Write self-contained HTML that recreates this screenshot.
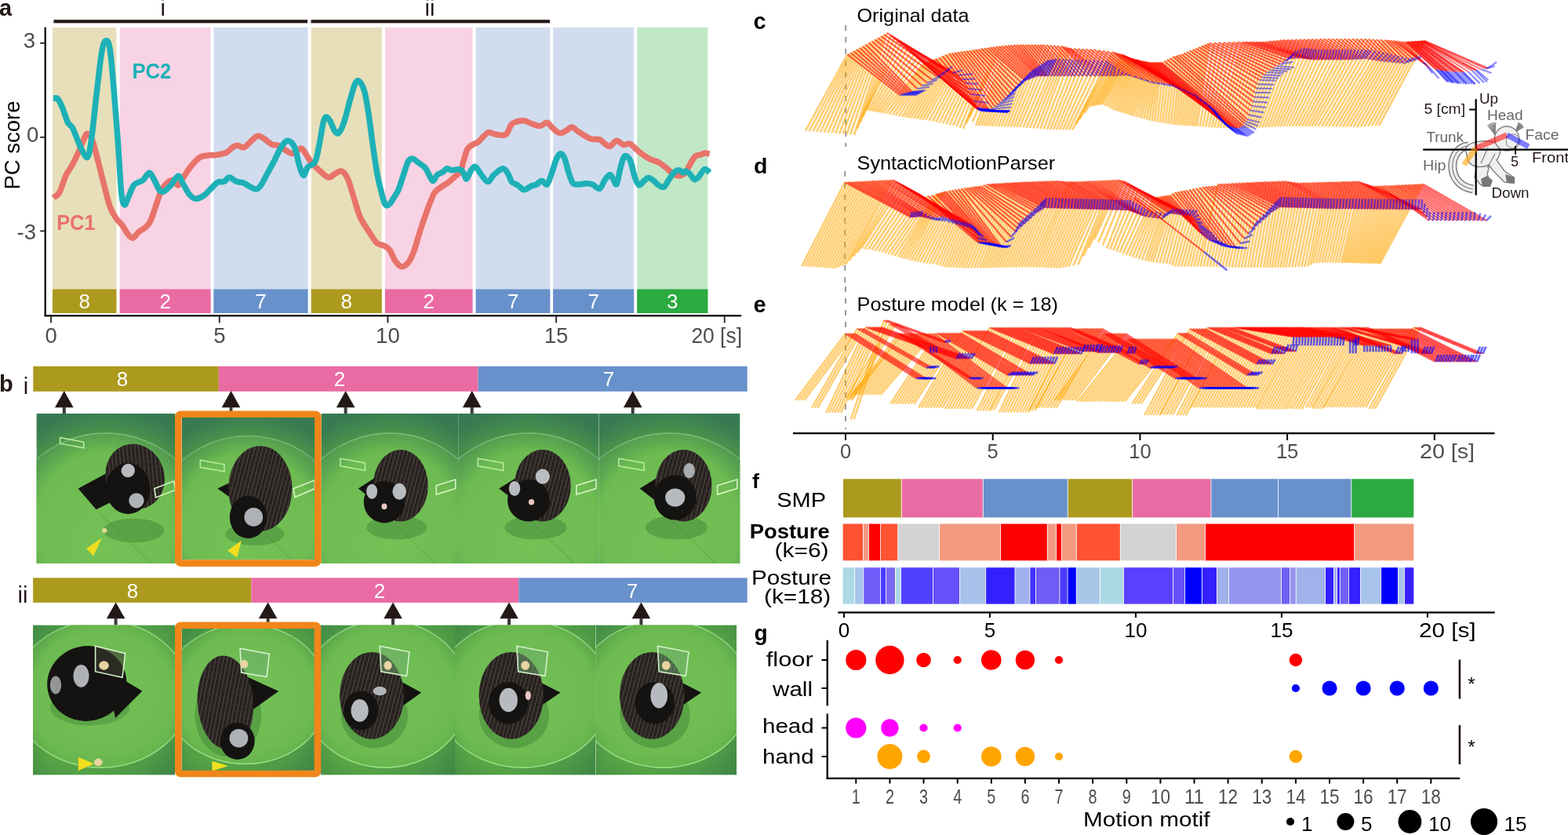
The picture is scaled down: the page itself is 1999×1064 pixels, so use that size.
<!DOCTYPE html>
<html><head><meta charset="utf-8"><title>figure</title>
<style>html,body{margin:0;padding:0;background:#fff;overflow:hidden}svg{display:block}
text{font-family:"Liberation Sans", Arial, sans-serif}</style></head>
<body><svg width="1999" height="1064" viewBox="0 0 1999 1064">
<defs><linearGradient id="gbase1" x1="0" y1="0" x2="0" y2="1">
<stop offset="0" stop-color="#4F9A4C"/><stop offset="0.22" stop-color="#5CA844"/><stop offset="1" stop-color="#62AF48"/></linearGradient>
<linearGradient id="gbase2" x1="0" y1="0" x2="1" y2="1">
<stop offset="0" stop-color="#4E9E48"/><stop offset="0.5" stop-color="#5AA845"/><stop offset="1" stop-color="#4A9548"/></linearGradient>
<radialGradient id="garena" cx="0.5" cy="0.5" r="0.5">
<stop offset="0" stop-color="#74C256"/><stop offset="0.8" stop-color="#6DBB51"/><stop offset="1" stop-color="#66B44D"/></radialGradient>
<pattern id="fur" width="5" height="7" patternUnits="userSpaceOnUse" patternTransform="rotate(15)">
<rect width="5" height="7" fill="#2c2623"/><path d="M1,0 L1.8,7" stroke="#6a625c" stroke-width="1" stroke-opacity="0.55"/><path d="M3.5,1 L4,6" stroke="#1a1614" stroke-width="1"/></pattern>
<radialGradient id="gcorn1" cx="0.5" cy="0.75" r="0.8">
<stop offset="0.62" stop-color="#2f6f55" stop-opacity="0"/><stop offset="1" stop-color="#2f6f55" stop-opacity="0.75"/></radialGradient>
<radialGradient id="gcorn2" cx="0.5" cy="0.5" r="0.72">
<stop offset="0.7" stop-color="#2f6f45" stop-opacity="0"/><stop offset="1" stop-color="#2f6f45" stop-opacity="0.45"/></radialGradient></defs>
<rect x="67.0" y="35" width="81.4" height="364" fill="#E7DFBA"/>
<rect x="67.0" y="368.5" width="81.4" height="30.5" fill="#AC9A1E"/>
<text x="107.7" y="393" font-size="26" fill="#fff" text-anchor="middle">8</text>
<rect x="152.7" y="35" width="115.9" height="364" fill="#F8D3E4"/>
<rect x="152.7" y="368.5" width="115.9" height="30.5" fill="#EA6BA3"/>
<text x="210.7" y="393" font-size="26" fill="#fff" text-anchor="middle">2</text>
<rect x="272.4" y="35" width="120.1" height="364" fill="#D1DDEF"/>
<rect x="272.4" y="368.5" width="120.1" height="30.5" fill="#6891CB"/>
<text x="332.4" y="393" font-size="26" fill="#fff" text-anchor="middle">7</text>
<rect x="396.7" y="35" width="90.1" height="364" fill="#E7DFBA"/>
<rect x="396.7" y="368.5" width="90.1" height="30.5" fill="#AC9A1E"/>
<text x="441.8" y="393" font-size="26" fill="#fff" text-anchor="middle">8</text>
<rect x="490.9" y="35" width="111.6" height="364" fill="#F8D3E4"/>
<rect x="490.9" y="368.5" width="111.6" height="30.5" fill="#EA6BA3"/>
<text x="546.7" y="393" font-size="26" fill="#fff" text-anchor="middle">2</text>
<rect x="606.6" y="35" width="94.7" height="364" fill="#D1DDEF"/>
<rect x="606.6" y="368.5" width="94.7" height="30.5" fill="#6891CB"/>
<text x="654.0" y="393" font-size="26" fill="#fff" text-anchor="middle">7</text>
<rect x="705.1" y="35" width="103.1" height="364" fill="#D1DDEF"/>
<rect x="705.1" y="368.5" width="103.1" height="30.5" fill="#6891CB"/>
<text x="756.7" y="393" font-size="26" fill="#fff" text-anchor="middle">7</text>
<rect x="812.2" y="35" width="90.2" height="364" fill="#C0E7C6"/>
<rect x="812.2" y="368.5" width="90.2" height="30.5" fill="#2BAA3F"/>
<text x="857.3" y="393" font-size="26" fill="#fff" text-anchor="middle">3</text>
<path d="M67.9,251.8 C69.2,250.7 73.2,249.9 75.8,245.3 C78.4,240.7 81.1,229.9 83.7,224.2 C86.3,218.5 89.0,215.8 91.6,211.0 C94.2,206.2 97.1,200.6 99.5,195.3 C101.9,190.1 104.0,183.7 106.0,179.5 C108.0,175.3 109.3,170.3 111.3,170.3 C113.3,170.3 115.7,174.0 117.9,179.5 C120.1,185.0 122.1,194.0 124.5,203.2 C126.9,212.4 129.8,224.6 132.4,234.7 C135.0,244.8 137.7,256.4 140.3,263.7 C142.9,270.9 145.6,274.2 148.2,278.2 C150.8,282.1 153.6,284.1 156.0,287.4 C158.4,290.7 160.4,295.3 162.6,297.9 C164.8,300.5 166.8,303.6 169.2,303.2 C171.6,302.8 174.5,297.5 177.1,295.3 C179.7,293.1 182.6,292.2 185.0,290.0 C187.4,287.8 189.4,286.5 191.6,282.1 C193.8,277.7 196.0,269.8 198.2,263.7 C200.4,257.6 202.5,250.1 204.7,245.3 C206.9,240.5 208.7,237.3 211.3,234.7 C213.9,232.1 217.9,229.3 220.5,229.5 C223.1,229.7 224.7,236.9 227.1,236.0 C229.5,235.1 232.2,228.4 235.0,224.2 C237.8,220.0 240.9,214.9 244.2,211.0 C247.5,207.1 251.2,202.7 254.7,200.5 C258.2,198.3 261.9,198.4 265.3,197.9 C268.7,197.4 271.1,198.1 275.0,197.5 C278.9,196.9 284.8,196.1 288.4,194.5 C291.9,192.9 293.9,189.4 296.3,187.9 C298.7,186.4 300.5,185.3 302.9,185.3 C305.3,185.3 308.2,188.6 310.8,187.9 C313.4,187.2 315.9,183.7 318.7,181.3 C321.5,178.9 325.0,174.3 327.9,173.4 C330.8,172.5 332.7,174.2 335.8,176.0 C338.9,177.8 343.2,182.3 346.3,183.9 C349.4,185.5 351.1,184.0 354.2,185.3 C357.3,186.6 361.6,190.1 364.7,191.8 C367.8,193.6 370.2,195.8 372.6,195.8 C375.0,195.8 377.2,192.9 379.2,191.8 C381.2,190.7 382.8,188.5 384.5,189.2 C386.2,189.9 387.7,193.0 389.7,195.8 C391.7,198.7 393.4,202.8 396.3,206.3 C399.2,209.8 403.1,213.5 406.8,216.8 C410.5,220.1 415.2,225.3 418.7,226.0 C422.2,226.7 425.0,222.1 427.9,220.8 C430.8,219.5 433.2,216.9 435.8,218.2 C438.4,219.5 441.1,222.8 443.7,228.7 C446.3,234.6 449.0,245.6 451.6,253.7 C454.2,261.8 456.4,270.6 459.5,277.4 C462.6,284.2 466.5,289.1 470.0,294.5 C473.5,299.9 477.3,306.5 480.5,309.6 C483.7,312.7 486.3,311.5 489.0,313.0 C491.7,314.5 494.4,315.2 496.8,318.4 C499.2,321.6 500.9,328.4 503.5,332.0 C506.1,335.6 509.5,339.6 512.5,339.8 C515.5,340.0 519.0,336.7 521.6,333.1 C524.2,329.5 526.0,324.6 528.3,318.4 C530.5,312.2 532.8,303.0 535.1,295.9 C537.4,288.8 539.6,282.0 541.9,275.6 C544.1,269.2 546.5,262.6 548.6,257.5 C550.7,252.4 552.0,248.3 554.3,245.1 C556.6,241.9 559.4,240.5 562.2,238.4 C565.0,236.3 568.2,235.0 571.2,232.7 C574.2,230.4 577.6,227.2 580.2,224.8 C582.8,222.4 585.1,221.7 587.0,218.1 C588.9,214.5 590.0,208.1 591.5,203.4 C593.0,198.7 594.1,193.1 596.0,189.9 C597.9,186.7 600.5,185.8 602.7,184.3 C605.0,182.8 607.2,182.6 609.5,180.9 C611.8,179.2 614.0,176.2 616.3,174.1 C618.5,172.0 620.8,169.1 623.0,168.5 C625.2,167.9 627.2,170.1 629.8,170.7 C632.4,171.3 636.2,172.3 638.8,172.3 C641.4,172.3 643.4,173.0 645.6,170.7 C647.9,168.4 650.0,160.9 652.3,158.3 C654.5,155.7 656.5,155.7 659.1,154.9 C661.7,154.2 665.1,153.4 668.1,153.8 C671.1,154.2 673.7,156.1 677.1,157.2 C680.5,158.3 685.0,160.8 688.4,160.6 C691.8,160.4 694.8,155.7 697.4,156.1 C700.0,156.5 701.9,160.7 704.2,162.8 C706.5,164.9 709.1,167.4 711.0,168.5 C712.9,169.6 713.9,169.7 715.8,169.3 C717.7,168.9 720.2,167.3 722.4,166.1 C724.6,164.9 726.5,161.9 728.9,162.1 C731.3,162.3 734.2,165.7 736.8,167.4 C739.4,169.2 741.9,171.0 744.7,172.6 C747.6,174.2 750.6,176.3 753.9,177.2 C757.2,178.1 761.6,176.9 764.5,177.9 C767.4,178.9 768.9,181.8 771.1,183.2 C773.3,184.6 775.1,187.1 777.6,186.4 C780.1,185.7 783.4,179.5 786.2,179.2 C789.1,178.9 792.0,183.8 794.7,184.5 C797.4,185.2 800.2,182.5 802.6,183.2 C805.0,183.8 806.6,186.2 809.2,188.4 C811.8,190.6 815.1,193.9 818.4,196.3 C821.7,198.7 825.4,201.2 828.9,202.9 C832.4,204.7 836.2,205.1 839.5,206.8 C842.8,208.6 845.6,211.0 848.7,213.4 C851.8,215.8 855.0,219.5 857.9,221.3 C860.8,223.1 863.2,224.2 865.8,224.0 C868.4,223.8 871.3,222.6 873.7,220.0 C876.1,217.4 878.1,211.7 880.3,208.2 C882.5,204.7 884.6,200.8 886.8,198.9 C889.0,197.0 891.4,197.7 893.4,197.0 C895.4,196.3 896.8,195.1 898.7,195.0 C900.6,194.9 903.6,196.1 904.6,196.3" fill="none" stroke="#E8736A" stroke-width="7.5" stroke-linejoin="round" stroke-linecap="butt"/>
<path d="M67.9,125.5 C68.8,125.5 71.2,123.5 73.2,125.5 C75.2,127.5 77.5,132.3 79.7,137.4 C81.9,142.5 84.1,151.4 86.3,155.8 C88.5,160.2 90.3,158.7 92.9,163.7 C95.5,168.7 99.0,179.9 102.1,186.0 C105.2,192.1 108.9,202.0 111.3,200.5 C113.7,199.0 114.6,190.4 116.6,176.8 C118.6,163.2 121.0,137.4 123.2,119.0 C125.4,100.6 127.7,77.5 129.7,66.3 C131.7,55.1 133.2,52.2 135.0,51.8 C136.8,51.4 138.6,52.5 140.3,63.7 C142.1,74.9 143.8,98.4 145.5,119.0 C147.2,139.6 149.3,166.3 150.8,187.4 C152.3,208.5 153.4,233.0 154.7,245.3 C156.0,257.6 157.1,260.1 158.7,261.0 C160.2,261.9 162.0,254.7 164.0,250.5 C166.0,246.3 168.3,239.1 170.5,236.0 C172.7,232.9 175.1,233.1 177.1,232.0 C179.1,230.9 180.2,231.4 182.4,229.5 C184.6,227.6 187.9,220.3 190.3,220.3 C192.7,220.3 194.6,225.8 196.8,229.5 C199.0,233.2 201.4,240.2 203.4,242.6 C205.4,245.0 206.3,245.1 208.7,244.0 C211.1,242.9 214.8,239.3 217.9,236.0 C221.0,232.7 224.5,224.4 227.1,224.2 C229.7,224.0 231.3,230.8 233.7,234.7 C236.1,238.6 239.0,244.8 241.6,247.9 C244.2,251.0 246.4,253.0 249.5,253.2 C252.6,253.4 256.5,251.6 260.0,249.2 C263.5,246.8 267.5,241.5 270.5,238.7 C273.5,235.8 275.3,233.3 277.9,232.1 C280.4,230.9 283.4,232.3 285.8,231.3 C288.2,230.3 289.8,226.0 292.4,226.0 C295.0,226.0 298.5,230.1 301.6,231.3 C304.7,232.5 308.0,232.1 310.8,233.2 C313.6,234.3 316.1,236.6 318.7,237.9 C321.3,239.2 324.2,241.5 326.6,241.1 C329.0,240.7 330.8,238.7 333.2,235.3 C335.6,231.9 338.4,225.6 341.0,220.8 C343.6,216.0 346.4,211.4 349.0,206.3 C351.6,201.2 354.2,194.9 356.8,190.5 C359.4,186.1 362.3,181.5 364.7,180.0 C367.1,178.5 369.3,179.6 371.3,181.3 C373.3,183.1 374.9,185.4 376.6,190.5 C378.4,195.6 380.1,206.1 381.8,211.6 C383.6,217.1 385.3,223.2 387.1,223.4 C388.9,223.6 390.0,215.8 392.4,212.9 C394.8,210.1 399.2,210.9 401.6,206.3 C404.0,201.7 405.1,193.6 406.8,185.3 C408.6,177.0 410.6,162.4 412.1,156.3 C413.6,150.2 414.5,149.1 416.0,148.9 C417.5,148.7 419.5,152.0 421.3,155.0 C423.1,158.0 424.9,164.4 426.6,166.8 C428.4,169.2 429.8,171.2 431.8,169.5 C433.8,167.8 436.0,163.3 438.4,156.3 C440.8,149.3 443.9,135.7 446.3,127.4 C448.7,119.1 450.9,110.2 452.9,106.3 C454.9,102.3 456.2,102.0 458.2,103.7 C460.2,105.5 462.7,109.8 464.7,116.8 C466.7,123.8 468.2,134.4 470.0,145.8 C471.8,157.2 473.6,173.0 475.3,185.3 C477.1,197.6 478.8,209.8 480.5,219.5 C482.2,229.2 484.1,236.4 485.8,243.2 C487.6,250.0 489.2,257.4 491.0,260.3 C492.8,263.2 494.6,261.5 496.3,260.3 C498.0,259.1 499.4,256.1 501.3,253.0 C503.2,249.9 505.8,247.1 508.0,241.8 C510.2,236.6 512.7,227.5 514.8,221.5 C516.9,215.5 518.5,208.9 520.4,205.7 C522.3,202.5 524.0,202.1 526.1,202.3 C528.2,202.5 530.2,204.9 532.8,206.8 C535.4,208.7 539.4,210.8 541.9,213.6 C544.4,216.4 545.8,220.9 547.5,223.7 C549.2,226.5 550.3,230.7 552.0,230.5 C553.7,230.3 555.5,224.5 557.6,222.6 C559.7,220.7 562.3,220.5 564.4,219.2 C566.5,217.9 568.1,215.1 570.0,214.7 C571.9,214.3 573.2,216.8 575.7,217.0 C578.2,217.2 582.3,215.4 584.7,215.8 C587.1,216.2 588.6,217.1 590.3,219.2 C592.0,221.3 593.1,228.6 594.8,228.2 C596.5,227.8 598.6,219.6 600.5,217.0 C602.4,214.4 604.0,211.7 606.1,212.4 C608.2,213.2 610.3,218.3 612.9,221.5 C615.5,224.7 619.1,231.4 621.9,231.6 C624.7,231.8 626.6,225.4 629.8,222.6 C633.0,219.8 638.1,214.9 641.1,214.7 C644.1,214.5 645.9,218.7 647.8,221.5 C649.7,224.3 650.2,229.2 652.3,231.6 C654.4,234.0 657.6,234.4 660.2,236.1 C662.8,237.8 665.3,241.6 668.1,241.8 C670.9,242.0 674.5,238.3 677.1,237.2 C679.7,236.1 681.6,236.1 683.9,235.0 C686.2,233.9 688.5,230.5 690.7,230.5 C693.0,230.5 695.3,236.5 697.4,235.0 C699.5,233.5 701.1,226.8 703.1,221.5 C705.1,216.2 707.3,207.2 709.2,202.9 C711.1,198.6 712.8,195.9 714.5,195.7 C716.2,195.5 718.0,197.5 719.7,201.6 C721.5,205.7 723.2,214.7 725.0,220.0 C726.8,225.3 728.3,230.7 730.3,233.2 C732.3,235.7 733.9,235.0 736.8,235.1 C739.6,235.2 744.3,233.8 747.4,233.8 C750.5,233.8 752.4,234.0 755.3,235.1 C758.1,236.2 761.9,241.4 764.5,240.4 C767.1,239.4 768.9,232.2 771.1,229.2 C773.3,226.2 775.8,222.6 777.6,222.6 C779.5,222.6 780.8,227.2 782.2,229.2 C783.6,231.2 784.8,236.9 786.2,234.5 C787.6,232.1 789.4,220.2 790.8,214.7 C792.2,209.2 793.4,204.2 794.7,201.6 C796.0,199.0 797.2,198.2 798.7,198.9 C800.2,199.6 802.1,201.1 803.9,205.5 C805.6,209.9 807.4,220.2 809.2,225.3 C811.0,230.4 812.5,234.9 814.5,235.8 C816.5,236.7 819.0,232.0 821.0,230.5 C823.0,229.0 824.3,226.7 826.3,226.6 C828.3,226.5 830.7,228.4 832.9,229.9 C835.1,231.4 837.3,234.4 839.5,235.8 C841.7,237.2 843.9,239.5 846.1,238.4 C848.3,237.3 850.4,232.3 852.6,229.2 C854.8,226.1 857.0,222.1 859.2,220.0 C861.4,217.9 863.8,216.7 865.8,216.7 C867.8,216.7 869.5,219.8 871.0,220.0 C872.5,220.2 873.5,217.6 875.0,218.0 C876.5,218.4 878.5,220.8 880.3,222.6 C882.0,224.4 883.8,228.1 885.5,228.6 C887.2,229.1 888.8,227.4 890.8,225.3 C892.8,223.2 895.6,217.5 897.4,216.1 C899.1,214.7 900.1,216.0 901.3,216.7 C902.5,217.3 904.0,219.4 904.6,220.0" fill="none" stroke="#1DB1B7" stroke-width="7.5" stroke-linejoin="round" stroke-linecap="butt"/>
<text x="168.5" y="100" font-size="27" font-weight="bold" fill="#1DB1B7" textLength="49.8" lengthAdjust="spacingAndGlyphs">PC2</text>
<text x="72.2" y="292.8" font-size="27" font-weight="bold" fill="#E8736A" textLength="49.3" lengthAdjust="spacingAndGlyphs">PC1</text>
<rect x="68.4" y="25.2" width="323.6" height="4.2" fill="#231815"/>
<rect x="396.5" y="25.2" width="304.5" height="4.2" fill="#231815"/>
<text x="207.8" y="19.8" font-size="29" fill="#231815" text-anchor="middle">i</text>
<text x="548" y="19.8" font-size="29" fill="#231815" text-anchor="middle">ii</text>
<rect x="56.6" y="34.8" width="2.2" height="368.5" fill="#000"/>
<rect x="56.6" y="401.2" width="888.6" height="2.2" fill="#000"/>
<rect x="51.2" y="53.9" width="6" height="2" fill="#333"/>
<text x="29.8" y="61.0" font-size="27.5" fill="#4D4D4D">3</text>
<rect x="51.2" y="173.9" width="6" height="2" fill="#333"/>
<text x="33.9" y="181.0" font-size="27.5" fill="#4D4D4D">0</text>
<rect x="51.2" y="293.4" width="6" height="2" fill="#333"/>
<text x="21.6" y="305.0" font-size="27.5" fill="#4D4D4D">-3</text>
<rect x="64.1" y="403" width="2" height="8.4" fill="#333"/>
<text x="65.1" y="436.8" font-size="27.5" fill="#4D4D4D" text-anchor="middle">0</text>
<rect x="278.8" y="403" width="2" height="8.4" fill="#333"/>
<text x="279.8" y="436.8" font-size="27.5" fill="#4D4D4D" text-anchor="middle">5</text>
<rect x="493.4" y="403" width="2" height="8.4" fill="#333"/>
<text x="494.4" y="436.8" font-size="27.5" fill="#4D4D4D" text-anchor="middle">10</text>
<rect x="708.1" y="403" width="2" height="8.4" fill="#333"/>
<text x="709.1" y="436.8" font-size="27.5" fill="#4D4D4D" text-anchor="middle">15</text>
<rect x="922.7" y="403" width="2" height="8.4" fill="#333"/>
<text x="881.4" y="436.8" font-size="27.5" fill="#4D4D4D" textLength="64.6" lengthAdjust="spacingAndGlyphs">20 [s]</text>
<text transform="translate(24.6,185) rotate(-90)" font-size="27.5" fill="#000" text-anchor="middle" textLength="113" lengthAdjust="spacingAndGlyphs">PC score</text>
<text x="-1" y="20.4" font-size="29" font-weight="bold" fill="#231815">a</text>
<text x="-1" y="498.6" font-size="29" font-weight="bold" fill="#231815">b</text>
<text x="33" y="502" font-size="29" fill="#231815" text-anchor="middle">i</text>
<text x="29" y="768" font-size="29" fill="#231815" text-anchor="middle">ii</text>
<rect x="42.3" y="466.7" width="236.5" height="32.1" fill="#AC9A1E"/>
<rect x="278.8" y="466.7" width="330.8" height="32.1" fill="#EA6BA3"/>
<rect x="609.6" y="466.7" width="343.1" height="32.1" fill="#6891CB"/>
<text x="156" y="492" font-size="26" fill="#fff" text-anchor="middle">8</text>
<text x="433" y="492" font-size="26" fill="#fff" text-anchor="middle">2</text>
<text x="776" y="492" font-size="26" fill="#fff" text-anchor="middle">7</text>
<polygon points="81.8,498.0 70.0,519.3 93.6,519.3" fill="#231815"/><rect x="79.8" y="518.8" width="4" height="8.2" fill="#3a3a3a"/>
<polygon points="294.5,498.0 282.7,519.3 306.3,519.3" fill="#231815"/><rect x="292.5" y="518.8" width="4" height="8.2" fill="#3a3a3a"/>
<polygon points="440.6,498.0 428.8,519.3 452.4,519.3" fill="#231815"/><rect x="438.6" y="518.8" width="4" height="8.2" fill="#3a3a3a"/>
<polygon points="601.7,498.0 589.9,519.3 613.5,519.3" fill="#231815"/><rect x="599.7" y="518.8" width="4" height="8.2" fill="#3a3a3a"/>
<polygon points="806.7,498.0 794.9,519.3 818.5,519.3" fill="#231815"/><rect x="804.7" y="518.8" width="4" height="8.2" fill="#3a3a3a"/>
<rect x="42.1" y="736.3" width="278.2" height="31.6" fill="#AC9A1E"/>
<rect x="320.3" y="736.3" width="341.0" height="31.6" fill="#EA6BA3"/>
<rect x="661.3" y="736.3" width="291.4" height="31.6" fill="#6891CB"/>
<text x="169" y="762" font-size="26" fill="#fff" text-anchor="middle">8</text>
<text x="484" y="762" font-size="26" fill="#fff" text-anchor="middle">2</text>
<text x="806" y="762" font-size="26" fill="#fff" text-anchor="middle">7</text>
<polygon points="147.6,767.5 135.8,788.3 159.4,788.3" fill="#231815"/><rect x="145.6" y="787.8" width="4" height="8.7" fill="#3a3a3a"/>
<polygon points="341.6,767.5 329.8,788.3 353.4,788.3" fill="#231815"/><rect x="339.6" y="787.8" width="4" height="8.7" fill="#3a3a3a"/>
<polygon points="501.0,767.5 489.2,788.3 512.8,788.3" fill="#231815"/><rect x="499.0" y="787.8" width="4" height="8.7" fill="#3a3a3a"/>
<polygon points="649.0,767.5 637.2,788.3 660.8,788.3" fill="#231815"/><rect x="647.0" y="787.8" width="4" height="8.7" fill="#3a3a3a"/>
<polygon points="817.4,767.5 805.6,788.3 829.2,788.3" fill="#231815"/><rect x="815.4" y="787.8" width="4" height="8.7" fill="#3a3a3a"/>
<clipPath id="ph0"><rect x="46.5" y="527.0" width="177.0" height="191.0"/></clipPath>
<g clip-path="url(#ph0)">
<rect x="46.5" y="527.0" width="177.0" height="191.0" fill="url(#gbase1)"/>
<ellipse cx="135.0" cy="695.1" rx="138.1" ry="143.2" fill="url(#garena)" stroke="#A4E68C" stroke-width="1.6" stroke-opacity="0.85"/>
<rect x="46.5" y="527.0" width="177.0" height="191.0" fill="url(#gcorn1)"/>
<path d="M126.2,653.1 L196.9,721.8" stroke="#3f8a3a" stroke-width="1" stroke-opacity="0.5"/>
<ellipse cx="170.4" cy="676.0" rx="38.9" ry="15.3" fill="#2f6e2c" fill-opacity="0.35" transform="rotate(0.0 170.4 676.0)"/>
<polygon points="99.6,622.5 135.0,603.4 145.6,637.8 122.6,649.2" fill="#141311" fill-opacity="1.00"/>
<ellipse cx="172.2" cy="607.2" rx="37.2" ry="42.0" fill="url(#fur)" fill-opacity="1.00" transform="rotate(-20.0 172.2 607.2)"/>
<ellipse cx="163.3" cy="622.5" rx="28.3" ry="32.5" fill="#141311" fill-opacity="1.00" transform="rotate(0.0 163.3 622.5)"/>
<ellipse cx="163.3" cy="599.6" rx="8.8" ry="8.6" fill="#c9ced3" fill-opacity="0.90" transform="rotate(-30.0 163.3 599.6)"/>
<ellipse cx="173.9" cy="637.8" rx="9.7" ry="9.6" fill="#c9ced3" fill-opacity="0.85" transform="rotate(0.0 173.9 637.8)"/>
<polygon points="196.9,622.5 221.7,613.0 223.5,624.4 198.7,634.0" fill="none" fill-opacity="1.00" stroke="#d8f5c8" stroke-width="1.6"/>
<polygon points="76.6,557.6 106.7,563.3 106.7,570.9 76.6,565.2" fill="none" fill-opacity="1.00" stroke="#b8ec9c" stroke-width="1.6"/>
<ellipse cx="133.2" cy="676.0" rx="3.2" ry="2.9" fill="#e8d890" fill-opacity="1.00" transform="rotate(0.0 133.2 676.0)"/>
<polygon points="129.7,685.5 110.2,698.9 119.1,708.5" fill="#F2DE1E"/>
</g>
<clipPath id="ph1"><rect x="231.7" y="532.0" width="169.6" height="181.3"/></clipPath>
<g clip-path="url(#ph1)">
<rect x="231.7" y="532.0" width="169.6" height="181.3" fill="url(#gbase1)"/>
<ellipse cx="316.5" cy="691.5" rx="132.3" ry="136.0" fill="url(#garena)" stroke="#A4E68C" stroke-width="1.6" stroke-opacity="0.85"/>
<rect x="231.7" y="532.0" width="169.6" height="181.3" fill="url(#gcorn1)"/>
<path d="M308.0,651.7 L375.9,716.9" stroke="#3f8a3a" stroke-width="1" stroke-opacity="0.5"/>
<ellipse cx="325.0" cy="680.7" rx="37.3" ry="14.5" fill="#2f6e2c" fill-opacity="0.35" transform="rotate(0.0 325.0 680.7)"/>
<polygon points="277.5,622.6 311.4,606.3 308.0,644.4" fill="#141311" fill-opacity="1.00"/>
<ellipse cx="331.8" cy="622.6" rx="40.7" ry="54.4" fill="url(#fur)" fill-opacity="1.00" transform="rotate(0.0 331.8 622.6)"/>
<ellipse cx="316.5" cy="658.9" rx="23.7" ry="27.2" fill="#141311" fill-opacity="1.00" transform="rotate(0.0 316.5 658.9)"/>
<ellipse cx="323.3" cy="658.9" rx="11.9" ry="11.8" fill="#c9ced3" fill-opacity="0.85" transform="rotate(0.0 323.3 658.9)"/>
<polygon points="374.2,622.6 401.3,611.8 401.3,622.6 375.9,633.5" fill="none" fill-opacity="1.00" stroke="#d8f5c8" stroke-width="1.6"/>
<polygon points="255.4,586.4 286.0,591.8 286.0,600.9 255.4,595.5" fill="none" fill-opacity="1.00" stroke="#b8ec9c" stroke-width="1.6"/>
<polygon points="308.0,688.8 290.2,701.5 302.1,710.6" fill="#F2DE1E"/>
</g>
<clipPath id="ph2"><rect x="409.5" y="527.0" width="174.7" height="191.0"/></clipPath>
<g clip-path="url(#ph2)">
<rect x="409.5" y="527.0" width="174.7" height="191.0" fill="url(#gbase1)"/>
<ellipse cx="496.9" cy="695.1" rx="136.3" ry="143.2" fill="url(#garena)" stroke="#A4E68C" stroke-width="1.6" stroke-opacity="0.85"/>
<rect x="409.5" y="527.0" width="174.7" height="191.0" fill="url(#gcorn1)"/>
<path d="M488.1,653.1 L558.0,721.8" stroke="#3f8a3a" stroke-width="1" stroke-opacity="0.5"/>
<ellipse cx="505.6" cy="672.2" rx="38.4" ry="15.3" fill="#2f6e2c" fill-opacity="0.35" transform="rotate(0.0 505.6 672.2)"/>
<polygon points="456.7,622.5 486.4,603.4 491.6,649.2" fill="#141311" fill-opacity="1.00"/>
<ellipse cx="510.8" cy="618.7" rx="34.9" ry="45.8" fill="url(#fur)" fill-opacity="1.00" transform="rotate(0.0 510.8 618.7)"/>
<ellipse cx="489.9" cy="639.7" rx="26.2" ry="26.7" fill="#141311" fill-opacity="1.00" transform="rotate(0.0 489.9 639.7)"/>
<ellipse cx="474.1" cy="626.3" rx="7.0" ry="9.6" fill="#c9ced3" fill-opacity="0.90" transform="rotate(0.0 474.1 626.3)"/>
<ellipse cx="509.1" cy="626.3" rx="8.7" ry="10.5" fill="#c9ced3" fill-opacity="0.90" transform="rotate(0.0 509.1 626.3)"/>
<ellipse cx="489.9" cy="645.4" rx="3.5" ry="3.8" fill="#e8c8c0" fill-opacity="1.00" transform="rotate(0.0 489.9 645.4)"/>
<polygon points="556.2,618.7 580.7,611.0 580.7,622.5 556.2,630.1" fill="none" fill-opacity="1.00" stroke="#d8f5c8" stroke-width="1.6"/>
<polygon points="434.0,584.3 465.4,590.0 465.4,599.6 434.0,593.9" fill="none" fill-opacity="1.00" stroke="#b8ec9c" stroke-width="1.6"/>
</g>
<clipPath id="ph3"><rect x="584.2" y="527.0" width="179.4" height="191.0"/></clipPath>
<g clip-path="url(#ph3)">
<rect x="584.2" y="527.0" width="179.4" height="191.0" fill="url(#gbase1)"/>
<ellipse cx="673.9" cy="695.1" rx="139.9" ry="143.2" fill="url(#garena)" stroke="#A4E68C" stroke-width="1.6" stroke-opacity="0.85"/>
<rect x="584.2" y="527.0" width="179.4" height="191.0" fill="url(#gcorn1)"/>
<path d="M664.9,653.1 L736.7,721.8" stroke="#3f8a3a" stroke-width="1" stroke-opacity="0.5"/>
<ellipse cx="682.9" cy="672.2" rx="39.5" ry="15.3" fill="#2f6e2c" fill-opacity="0.35" transform="rotate(0.0 682.9 672.2)"/>
<polygon points="636.2,622.5 666.7,603.4 670.3,649.2" fill="#141311" fill-opacity="1.00"/>
<ellipse cx="691.8" cy="618.7" rx="35.9" ry="45.8" fill="url(#fur)" fill-opacity="1.00" transform="rotate(0.0 691.8 618.7)"/>
<ellipse cx="673.9" cy="637.8" rx="26.9" ry="26.7" fill="#141311" fill-opacity="1.00" transform="rotate(0.0 673.9 637.8)"/>
<ellipse cx="656.0" cy="622.5" rx="7.2" ry="9.6" fill="#c9ced3" fill-opacity="0.90" transform="rotate(0.0 656.0 622.5)"/>
<ellipse cx="691.8" cy="607.2" rx="9.0" ry="9.6" fill="#c9ced3" fill-opacity="0.90" transform="rotate(0.0 691.8 607.2)"/>
<ellipse cx="677.5" cy="639.7" rx="3.6" ry="3.8" fill="#e8c8c0" fill-opacity="1.00" transform="rotate(0.0 677.5 639.7)"/>
<polygon points="734.9,618.7 760.0,611.0 760.0,622.5 734.9,630.1" fill="none" fill-opacity="1.00" stroke="#d8f5c8" stroke-width="1.6"/>
<polygon points="609.3,584.3 641.6,590.0 641.6,599.6 609.3,593.9" fill="none" fill-opacity="1.00" stroke="#b8ec9c" stroke-width="1.6"/>
</g>
<clipPath id="ph4"><rect x="763.6" y="527.0" width="179.8" height="191.0"/></clipPath>
<g clip-path="url(#ph4)">
<rect x="763.6" y="527.0" width="179.8" height="191.0" fill="url(#gbase1)"/>
<ellipse cx="853.5" cy="695.1" rx="140.2" ry="143.2" fill="url(#garena)" stroke="#A4E68C" stroke-width="1.6" stroke-opacity="0.85"/>
<rect x="763.6" y="527.0" width="179.8" height="191.0" fill="url(#gcorn1)"/>
<path d="M844.5,653.1 L916.4,721.8" stroke="#3f8a3a" stroke-width="1" stroke-opacity="0.5"/>
<ellipse cx="862.5" cy="672.2" rx="39.6" ry="15.3" fill="#2f6e2c" fill-opacity="0.35" transform="rotate(0.0 862.5 672.2)"/>
<polygon points="815.7,622.5 846.3,603.4 849.9,649.2" fill="#141311" fill-opacity="1.00"/>
<ellipse cx="871.5" cy="618.7" rx="36.0" ry="45.8" fill="url(#fur)" fill-opacity="1.00" transform="rotate(0.0 871.5 618.7)"/>
<ellipse cx="860.7" cy="634.0" rx="27.0" ry="28.6" fill="#141311" fill-opacity="1.00" transform="rotate(0.0 860.7 634.0)"/>
<ellipse cx="860.7" cy="634.0" rx="12.6" ry="11.5" fill="#c9ced3" fill-opacity="0.90" transform="rotate(0.0 860.7 634.0)"/>
<ellipse cx="878.7" cy="599.6" rx="7.2" ry="9.6" fill="#c9ced3" fill-opacity="0.80" transform="rotate(0.0 878.7 599.6)"/>
<polygon points="914.6,618.7 939.8,611.0 939.8,622.5 914.6,630.1" fill="none" fill-opacity="1.00" stroke="#d8f5c8" stroke-width="1.6"/>
<polygon points="788.8,584.3 821.1,590.0 821.1,599.6 788.8,593.9" fill="none" fill-opacity="1.00" stroke="#b8ec9c" stroke-width="1.6"/>
</g>
<rect x="227.3" y="527.8" width="178" height="189.8" rx="3" fill="none" stroke="#F0861A" stroke-width="8.6"/>
<clipPath id="ph10"><rect x="42.0" y="796.4" width="181.0" height="191.2"/></clipPath>
<g clip-path="url(#ph10)">
<rect x="42.0" y="796.4" width="181.0" height="191.2" fill="url(#gbase2)"/>
<ellipse cx="128.9" cy="884.4" rx="112.2" ry="93.7" fill="url(#garena)" stroke="#A4E68C" stroke-width="1.6" stroke-opacity="0.85"/>
<rect x="42.0" y="796.4" width="181.0" height="191.2" fill="url(#gcorn2)"/>
<ellipse cx="114.4" cy="901.6" rx="50.7" ry="22.9" fill="#2f6e2c" fill-opacity="0.30" transform="rotate(0.0 114.4 901.6)"/>
<ellipse cx="110.8" cy="871.0" rx="50.7" ry="47.8" fill="#141311" fill-opacity="1.00" transform="rotate(-10.0 110.8 871.0)"/>
<polygon points="136.1,853.8 181.4,880.5 147.0,914.9" fill="#141311" fill-opacity="1.00"/>
<ellipse cx="103.5" cy="861.4" rx="10.0" ry="14.3" fill="#c9ced3" fill-opacity="0.85" transform="rotate(0.0 103.5 861.4)"/>
<ellipse cx="71.0" cy="872.9" rx="7.2" ry="11.5" fill="#c9ced3" fill-opacity="0.70" transform="rotate(0.0 71.0 872.9)"/>
<polygon points="121.6,823.2 159.7,832.7 156.0,863.3 121.6,855.7" fill="#3a3a30" fill-opacity="0.60" stroke="#d6f2cc" stroke-width="1.6"/>
<ellipse cx="132.5" cy="848.0" rx="6.3" ry="5.7" fill="#e8d4a0" fill-opacity="1.00" transform="rotate(0.0 132.5 848.0)"/>
<ellipse cx="125.3" cy="971.3" rx="5.4" ry="4.8" fill="#e8d4a0" fill-opacity="1.00" transform="rotate(0.0 125.3 971.3)"/>
<polygon points="99.9,964.7 99.9,981.9 119.8,973.3" fill="#F2DE1E"/>
</g>
<clipPath id="ph11"><rect x="231.5" y="800.8" width="169.5" height="181.7"/></clipPath>
<g clip-path="url(#ph11)">
<rect x="231.5" y="800.8" width="169.5" height="181.7" fill="url(#gbase2)"/>
<ellipse cx="312.9" cy="884.4" rx="105.1" ry="89.0" fill="url(#garena)" stroke="#A4E68C" stroke-width="1.6" stroke-opacity="0.85"/>
<rect x="231.5" y="800.8" width="169.5" height="181.7" fill="url(#gcorn2)"/>
<ellipse cx="290.8" cy="909.8" rx="42.4" ry="54.5" fill="#2f6e2c" fill-opacity="0.35" transform="rotate(0.0 290.8 909.8)"/>
<polygon points="311.2,860.8 355.2,880.7 319.6,906.2" fill="#141311" fill-opacity="1.00"/>
<ellipse cx="287.4" cy="895.3" rx="35.6" ry="60.0" fill="url(#fur)" fill-opacity="1.00" transform="rotate(-4.0 287.4 895.3)"/>
<ellipse cx="302.7" cy="944.3" rx="22.0" ry="23.6" fill="#141311" fill-opacity="1.00" transform="rotate(0.0 302.7 944.3)"/>
<ellipse cx="304.4" cy="940.7" rx="11.9" ry="11.8" fill="#c9ced3" fill-opacity="0.85" transform="rotate(0.0 304.4 940.7)"/>
<polygon points="306.1,826.2 343.4,833.5 340.0,862.6 307.8,857.1" fill="#6fae70" fill-opacity="0.50" stroke="#d6f2cc" stroke-width="1.6"/>
<ellipse cx="311.2" cy="846.2" rx="5.1" ry="5.5" fill="#e8d4a0" fill-opacity="1.00" transform="rotate(0.0 311.2 846.2)"/>
<polygon points="270.5,969.8 270.5,982.5 290.8,976.1" fill="#F2DE1E"/>
</g>
<clipPath id="ph12"><rect x="409.0" y="796.4" width="171.0" height="191.2"/></clipPath>
<g clip-path="url(#ph12)">
<rect x="409.0" y="796.4" width="171.0" height="191.2" fill="url(#gbase2)"/>
<ellipse cx="491.1" cy="884.4" rx="106.0" ry="93.7" fill="url(#garena)" stroke="#A4E68C" stroke-width="1.6" stroke-opacity="0.85"/>
<rect x="409.0" y="796.4" width="171.0" height="191.2" fill="url(#gcorn2)"/>
<ellipse cx="477.4" cy="911.1" rx="42.8" ry="42.1" fill="#2f6e2c" fill-opacity="0.35" transform="rotate(0.0 477.4 911.1)"/>
<polygon points="497.9,861.4 537.2,882.4 504.8,905.4" fill="#141311" fill-opacity="1.00"/>
<ellipse cx="474.0" cy="886.3" rx="41.0" ry="55.4" fill="url(#fur)" fill-opacity="1.00" transform="rotate(0.0 474.0 886.3)"/>
<ellipse cx="460.3" cy="905.4" rx="22.2" ry="24.9" fill="#141311" fill-opacity="1.00" transform="rotate(0.0 460.3 905.4)"/>
<ellipse cx="458.6" cy="905.4" rx="11.1" ry="14.3" fill="#c9ced3" fill-opacity="0.90" transform="rotate(0.0 458.6 905.4)"/>
<ellipse cx="484.2" cy="880.5" rx="8.6" ry="5.7" fill="#c9ced3" fill-opacity="0.85" transform="rotate(0.0 484.2 880.5)"/>
<polygon points="484.2,823.2 521.9,830.8 518.4,861.4 485.9,855.7" fill="#6fae70" fill-opacity="0.50" stroke="#d6f2cc" stroke-width="1.6"/>
<ellipse cx="494.5" cy="848.0" rx="5.1" ry="5.7" fill="#e8d4a0" fill-opacity="1.00" transform="rotate(0.0 494.5 848.0)"/>
</g>
<clipPath id="ph13"><rect x="580.0" y="796.4" width="179.4" height="191.2"/></clipPath>
<g clip-path="url(#ph13)">
<rect x="580.0" y="796.4" width="179.4" height="191.2" fill="url(#gbase2)"/>
<ellipse cx="666.1" cy="884.4" rx="111.2" ry="93.7" fill="url(#garena)" stroke="#A4E68C" stroke-width="1.6" stroke-opacity="0.85"/>
<rect x="580.0" y="796.4" width="179.4" height="191.2" fill="url(#gcorn2)"/>
<ellipse cx="655.3" cy="911.1" rx="44.8" ry="42.1" fill="#2f6e2c" fill-opacity="0.35" transform="rotate(0.0 655.3 911.1)"/>
<polygon points="673.3,861.4 714.5,882.4 680.5,905.4" fill="#141311" fill-opacity="1.00"/>
<ellipse cx="651.8" cy="886.3" rx="41.3" ry="55.4" fill="url(#fur)" fill-opacity="1.00" transform="rotate(0.0 651.8 886.3)"/>
<ellipse cx="648.2" cy="895.8" rx="25.1" ry="26.8" fill="#141311" fill-opacity="1.00" transform="rotate(0.0 648.2 895.8)"/>
<ellipse cx="648.2" cy="892.0" rx="11.7" ry="15.3" fill="#c9ced3" fill-opacity="0.90" transform="rotate(0.0 648.2 892.0)"/>
<ellipse cx="673.3" cy="886.3" rx="3.6" ry="5.7" fill="#e8c8c0" fill-opacity="1.00" transform="rotate(0.0 673.3 886.3)"/>
<polygon points="658.9,823.2 698.4,830.8 694.8,861.4 660.7,855.7" fill="#6fae70" fill-opacity="0.50" stroke="#d6f2cc" stroke-width="1.6"/>
<ellipse cx="669.7" cy="848.0" rx="5.4" ry="5.7" fill="#e8d4a0" fill-opacity="1.00" transform="rotate(0.0 669.7 848.0)"/>
</g>
<clipPath id="ph14"><rect x="759.4" y="796.4" width="179.6" height="191.2"/></clipPath>
<g clip-path="url(#ph14)">
<rect x="759.4" y="796.4" width="179.6" height="191.2" fill="url(#gbase2)"/>
<ellipse cx="845.6" cy="884.4" rx="111.4" ry="93.7" fill="url(#garena)" stroke="#A4E68C" stroke-width="1.6" stroke-opacity="0.85"/>
<rect x="759.4" y="796.4" width="179.6" height="191.2" fill="url(#gcorn2)"/>
<ellipse cx="834.8" cy="911.1" rx="44.9" ry="42.1" fill="#2f6e2c" fill-opacity="0.35" transform="rotate(0.0 834.8 911.1)"/>
<polygon points="852.8,861.4 894.1,882.4 860.0,905.4" fill="#141311" fill-opacity="1.00"/>
<ellipse cx="831.2" cy="886.3" rx="41.3" ry="55.4" fill="url(#fur)" fill-opacity="1.00" transform="rotate(0.0 831.2 886.3)"/>
<ellipse cx="834.8" cy="895.8" rx="25.1" ry="26.8" fill="#141311" fill-opacity="1.00" transform="rotate(0.0 834.8 895.8)"/>
<ellipse cx="840.2" cy="886.3" rx="10.8" ry="16.3" fill="#c9ced3" fill-opacity="0.90" transform="rotate(0.0 840.2 886.3)"/>
<polygon points="838.4,823.2 877.9,830.8 874.3,861.4 840.2,855.7" fill="#6fae70" fill-opacity="0.50" stroke="#d6f2cc" stroke-width="1.6"/>
<ellipse cx="849.2" cy="848.0" rx="5.4" ry="5.7" fill="#e8d4a0" fill-opacity="1.00" transform="rotate(0.0 849.2 848.0)"/>
</g>
<rect x="227.3" y="796.7" width="177.6" height="189.3" rx="3" fill="none" stroke="#F0861A" stroke-width="8.6"/>
<line x1="1078.2" y1="32.0" x2="1078.2" y2="187.0" stroke="#9a9a9a" stroke-width="2" stroke-dasharray="7,8"/>
<line x1="1077.2" y1="218.0" x2="1077.2" y2="369.0" stroke="#9a9a9a" stroke-width="2" stroke-dasharray="7,8"/>
<line x1="1078.0" y1="365.0" x2="1078.0" y2="547.0" stroke="#9a9a9a" stroke-width="2" stroke-dasharray="7,8"/>
<g stroke="#FFA500" stroke-opacity="0.55" stroke-width="2.7" fill="none">
<path d="M1026.8 166.9L1080.5 69.4"/>
<path d="M1031.6 167.3L1084.4 67.3"/>
<path d="M1036.4 167.7L1088.3 65.2"/>
<path d="M1041.2 168.1L1092.2 63.1"/>
<path d="M1045.9 168.5L1096.0 61.0"/>
<path d="M1050.7 168.9L1099.9 58.9"/>
<path d="M1055.5 169.3L1103.8 56.8"/>
<path d="M1060.3 169.6L1107.7 54.6"/>
<path d="M1065.1 170.0L1111.6 52.5"/>
<path d="M1069.9 170.4L1115.5 50.4"/>
<path d="M1074.6 170.8L1119.3 48.3"/>
<path d="M1079.4 171.2L1123.2 46.2"/>
<path d="M1084.2 171.6L1127.1 44.1"/>
<path d="M1089.0 172.0L1131.0 42.0"/>
<path d="M1092.8 164.1L1135.3 45.5"/>
<path d="M1096.5 156.2L1139.5 48.9"/>
<path d="M1100.2 148.4L1143.8 52.4"/>
<path d="M1104.0 140.5L1148.1 55.8"/>
<path d="M1107.0 141.0L1152.4 59.3"/>
<path d="M1110.0 141.5L1156.6 62.7"/>
<path d="M1113.0 142.0L1160.9 66.2"/>
<path d="M1116.0 142.5L1165.2 69.6"/>
<path d="M1119.0 143.0L1169.5 73.1"/>
<path d="M1122.0 143.5L1173.7 76.5"/>
<path d="M1125.0 144.0L1178.0 80.0"/>
<path d="M1129.2 144.8L1181.0 79.0"/>
<path d="M1133.3 145.7L1184.0 78.0"/>
<path d="M1137.5 146.5L1187.0 77.0"/>
<path d="M1141.7 147.3L1190.0 76.0"/>
<path d="M1145.8 148.2L1193.0 75.0"/>
<path d="M1150.0 149.0L1197.2 73.2"/>
<path d="M1153.8 149.5L1201.5 71.5"/>
<path d="M1157.5 150.0L1205.8 69.8"/>
<path d="M1161.2 150.5L1210.0 68.0"/>
<path d="M1165.0 151.0L1213.8 67.5"/>
<path d="M1168.8 151.5L1217.5 67.0"/>
<path d="M1172.5 152.0L1221.2 66.4"/>
<path d="M1176.2 152.5L1225.0 65.9"/>
<path d="M1180.0 153.0L1228.8 65.4"/>
<path d="M1184.4 153.9L1232.5 64.8"/>
<path d="M1188.8 154.8L1236.2 64.3"/>
<path d="M1193.1 155.6L1240.0 63.8"/>
<path d="M1197.5 156.5L1243.8 63.2"/>
<path d="M1201.9 157.4L1247.5 62.7"/>
<path d="M1206.2 158.2L1251.2 62.1"/>
<path d="M1210.6 159.1L1255.0 61.5"/>
<path d="M1215.0 160.0L1258.8 61.0"/>
<path d="M1219.3 161.3L1262.5 60.4"/>
<path d="M1223.7 162.7L1266.2 59.9"/>
<path d="M1228.0 164.0L1270.0 59.3"/>
<path d="M1232.0 157.0L1273.8 58.9"/>
<path d="M1236.0 150.0L1277.5 58.5"/>
<path d="M1240.0 155.0L1281.3 58.1"/>
<path d="M1244.0 160.0L1285.1 57.8"/>
<path d="M1247.5 160.2L1288.8 57.4"/>
<path d="M1251.0 160.3L1292.6 57.0"/>
<path d="M1254.5 160.5L1296.3 57.0"/>
<path d="M1258.0 160.7L1300.1 57.0"/>
<path d="M1261.5 160.8L1303.8 57.0"/>
<path d="M1265.0 161.0L1307.6 57.0"/>
<path d="M1268.9 161.1L1311.3 57.0"/>
<path d="M1272.8 161.2L1315.0 57.0"/>
<path d="M1276.7 161.3L1318.8 57.0"/>
<path d="M1280.6 161.4L1322.5 57.0"/>
<path d="M1284.4 161.6L1326.3 57.0"/>
<path d="M1288.3 161.7L1330.0 57.0"/>
<path d="M1292.2 161.8L1334.6 57.3"/>
<path d="M1296.1 161.9L1339.1 57.6"/>
<path d="M1300.0 162.0L1343.7 58.0"/>
<path d="M1304.4 162.4L1348.2 58.3"/>
<path d="M1308.8 162.8L1352.8 58.6"/>
<path d="M1313.1 163.1L1355.8 59.4"/>
<path d="M1317.5 163.5L1358.8 60.1"/>
<path d="M1321.9 163.9L1361.8 60.9"/>
<path d="M1326.2 164.2L1364.8 61.6"/>
<path d="M1330.6 164.6L1369.8 61.8"/>
<path d="M1335.0 165.0L1374.9 62.1"/>
<path d="M1339.0 165.1L1379.9 62.3"/>
<path d="M1343.0 165.1L1384.9 62.5"/>
<path d="M1347.0 165.2L1390.0 62.8"/>
<path d="M1351.0 165.2L1395.0 63.0"/>
<path d="M1355.0 165.3L1400.8 63.8"/>
<path d="M1359.0 165.4L1406.5 64.5"/>
<path d="M1363.0 165.4L1412.2 65.2"/>
<path d="M1367.0 165.5L1418.0 66.0"/>
<path d="M1371.5 158.8L1421.0 66.9"/>
<path d="M1376.0 152.0L1424.0 67.8"/>
<path d="M1383.0 143.8L1427.0 68.6"/>
<path d="M1390.0 135.6L1430.0 69.5"/>
<path d="M1392.5 135.2L1431.7 70.2"/>
<path d="M1395.0 134.7L1433.3 71.0"/>
<path d="M1397.5 134.3L1435.0 71.8"/>
<path d="M1400.0 133.9L1436.7 72.5"/>
<path d="M1402.5 133.4L1438.3 73.2"/>
<path d="M1405.0 133.0L1440.0 74.0"/>
<path d="M1407.8 134.3L1441.5 74.4"/>
<path d="M1410.7 135.7L1443.0 74.7"/>
<path d="M1413.5 137.0L1444.5 75.1"/>
<path d="M1416.3 138.3L1446.0 75.5"/>
<path d="M1419.2 139.7L1447.5 75.9"/>
<path d="M1422.0 141.0L1449.0 76.2"/>
<path d="M1424.9 141.9L1450.5 76.6"/>
<path d="M1427.8 142.8L1452.7 77.0"/>
<path d="M1430.6 143.6L1454.8 77.5"/>
<path d="M1433.5 144.5L1457.0 77.9"/>
<path d="M1436.4 145.4L1459.1 78.3"/>
<path d="M1439.2 146.2L1461.3 78.7"/>
<path d="M1442.1 147.1L1463.4 79.2"/>
<path d="M1445.0 148.0L1465.6 79.6"/>
<path d="M1448.4 148.9L1467.5 79.6"/>
<path d="M1451.8 149.8L1469.3 79.6"/>
<path d="M1455.1 150.6L1471.2 79.6"/>
<path d="M1458.5 151.5L1473.1 79.6"/>
<path d="M1461.9 152.4L1475.0 79.6"/>
<path d="M1465.2 153.2L1476.8 79.6"/>
<path d="M1468.6 154.1L1478.7 79.6"/>
<path d="M1472.0 155.0L1480.6 79.6"/>
<path d="M1475.4 155.6L1484.3 77.7"/>
<path d="M1478.9 156.1L1488.1 75.8"/>
<path d="M1482.3 156.7L1491.8 74.0"/>
<path d="M1485.7 157.3L1495.6 72.1"/>
<path d="M1489.1 157.9L1499.1 71.1"/>
<path d="M1492.6 158.4L1502.5 70.0"/>
<path d="M1496.0 159.0L1506.0 69.0"/>
<path d="M1499.0 159.2L1509.7 67.5"/>
<path d="M1502.0 159.4L1513.4 66.0"/>
<path d="M1505.0 159.6L1517.1 64.5"/>
<path d="M1508.0 159.8L1520.9 63.1"/>
<path d="M1511.0 160.0L1524.6 61.6"/>
<path d="M1514.0 160.2L1528.3 60.1"/>
<path d="M1517.0 160.4L1532.0 58.6"/>
<path d="M1520.0 160.6L1535.3 57.3"/>
<path d="M1523.0 160.8L1538.7 56.0"/>
<path d="M1526.0 161.0L1542.0 54.7"/>
<path d="M1529.7 161.3L1548.0 54.5"/>
<path d="M1533.4 161.6L1554.0 54.3"/>
<path d="M1537.1 161.9L1560.0 54.1"/>
<path d="M1540.9 162.1L1566.0 54.0"/>
<path d="M1544.6 162.4L1572.0 53.8"/>
<path d="M1548.3 162.7L1578.0 53.6"/>
<path d="M1552.0 163.0L1584.0 53.4"/>
<path d="M1556.0 163.0L1588.3 53.4"/>
<path d="M1560.0 163.0L1592.7 53.4"/>
<path d="M1564.0 163.0L1597.0 53.4"/>
<path d="M1568.0 163.0L1601.3 53.4"/>
<path d="M1572.0 163.0L1605.7 53.4"/>
<path d="M1576.0 163.0L1610.0 53.4"/>
<path d="M1579.7 163.0L1614.3 53.0"/>
<path d="M1583.3 163.0L1618.7 52.5"/>
<path d="M1587.0 163.0L1623.0 52.1"/>
<path d="M1590.7 163.0L1627.3 51.7"/>
<path d="M1594.3 163.0L1631.7 51.2"/>
<path d="M1598.0 163.0L1636.0 50.8"/>
<path d="M1601.8 162.8L1641.2 50.7"/>
<path d="M1605.6 162.6L1646.4 50.5"/>
<path d="M1609.4 162.4L1651.6 50.4"/>
<path d="M1613.2 162.2L1656.8 50.3"/>
<path d="M1617.0 162.0L1662.0 50.1"/>
<path d="M1620.8 161.8L1667.2 50.0"/>
<path d="M1624.6 161.6L1672.4 49.9"/>
<path d="M1628.4 161.4L1677.6 49.8"/>
<path d="M1632.2 161.2L1682.8 49.6"/>
<path d="M1636.0 161.0L1688.0 49.5"/>
<path d="M1640.0 161.0L1693.2 49.5"/>
<path d="M1644.0 161.0L1698.4 49.5"/>
<path d="M1648.0 161.0L1703.6 49.5"/>
<path d="M1652.0 161.0L1708.8 49.5"/>
<path d="M1656.0 161.0L1714.0 49.5"/>
<path d="M1660.0 161.0L1719.2 49.5"/>
<path d="M1664.0 161.0L1724.4 49.5"/>
<path d="M1668.0 161.0L1729.6 49.5"/>
<path d="M1672.0 161.0L1734.8 49.5"/>
<path d="M1676.0 161.0L1740.0 49.5"/>
<path d="M1680.5 161.1L1745.1 49.8"/>
<path d="M1685.0 161.2L1750.2 50.0"/>
<path d="M1689.5 161.2L1755.4 50.3"/>
<path d="M1694.0 161.3L1760.5 50.5"/>
<path d="M1698.5 161.4L1765.6 50.8"/>
<path d="M1703.0 161.5L1769.3 51.2"/>
<path d="M1707.5 161.6L1773.0 51.5"/>
<path d="M1712.0 161.7L1776.7 51.9"/>
<path d="M1716.5 161.8L1780.4 52.3"/>
<path d="M1721.0 161.8L1784.1 52.7"/>
<path d="M1725.5 161.9L1787.8 53.0"/>
<path d="M1730.0 162.0L1791.5 53.4"/>
<path d="M1734.7 161.7L1795.6 53.2"/>
<path d="M1739.3 161.3L1799.7 52.9"/>
<path d="M1744.0 161.0L1803.8 52.7"/>
<path d="M1748.7 160.7L1807.8 52.5"/>
<path d="M1753.3 160.3L1811.9 52.2"/>
<path d="M1758.0 160.0L1816.0 52.0"/>
</g>
<g stroke="#FF0000" stroke-opacity="0.60" stroke-width="2.1" fill="none">
<path d="M1080.5 69.4L1147.0 121.0"/>
<path d="M1084.4 67.3L1149.7 120.3"/>
<path d="M1088.3 65.2L1152.3 119.7"/>
<path d="M1092.2 63.1L1155.0 119.0"/>
<path d="M1096.0 61.0L1157.7 118.3"/>
<path d="M1099.9 58.9L1160.3 117.7"/>
<path d="M1103.8 56.8L1163.0 117.0"/>
<path d="M1107.7 54.6L1169.3 113.1"/>
<path d="M1111.6 52.5L1175.6 109.3"/>
<path d="M1115.5 50.4L1181.9 105.4"/>
<path d="M1119.3 48.3L1188.1 101.6"/>
<path d="M1123.2 46.2L1194.4 97.7"/>
<path d="M1127.1 44.1L1200.7 93.9"/>
<path d="M1131.0 42.0L1207.0 90.0"/>
<path d="M1135.3 45.5L1214.5 93.0"/>
<path d="M1139.5 48.9L1222.0 96.0"/>
<path d="M1143.8 52.4L1226.5 101.0"/>
<path d="M1148.1 55.8L1231.0 106.0"/>
<path d="M1152.4 59.3L1234.5 113.0"/>
<path d="M1156.6 62.7L1238.0 120.0"/>
<path d="M1160.9 66.2L1241.5 129.0"/>
<path d="M1165.2 69.6L1245.0 138.0"/>
<path d="M1169.5 73.1L1245.7 138.4"/>
<path d="M1173.7 76.5L1246.4 138.9"/>
<path d="M1178.0 80.0L1247.1 139.3"/>
<path d="M1181.0 79.0L1247.9 139.7"/>
<path d="M1184.0 78.0L1248.6 140.1"/>
<path d="M1187.0 77.0L1249.3 140.6"/>
<path d="M1190.0 76.0L1250.0 141.0"/>
<path d="M1193.0 75.0L1252.4 141.0"/>
<path d="M1197.2 73.2L1254.8 141.0"/>
<path d="M1201.5 71.5L1257.2 141.0"/>
<path d="M1205.8 69.8L1259.6 141.0"/>
<path d="M1210.0 68.0L1262.0 141.0"/>
<path d="M1213.8 67.5L1265.3 138.4"/>
<path d="M1217.5 67.0L1268.6 135.9"/>
<path d="M1221.2 66.4L1271.9 133.3"/>
<path d="M1225.0 65.9L1275.1 130.7"/>
<path d="M1228.8 65.4L1278.4 128.1"/>
<path d="M1232.5 64.8L1281.7 125.6"/>
<path d="M1236.2 64.3L1285.0 123.0"/>
<path d="M1240.0 63.8L1288.7 119.7"/>
<path d="M1243.8 63.2L1292.3 116.3"/>
<path d="M1247.5 62.7L1296.0 113.0"/>
<path d="M1251.2 62.1L1299.7 109.7"/>
<path d="M1255.0 61.5L1303.3 106.3"/>
<path d="M1258.8 61.0L1307.0 103.0"/>
<path d="M1262.5 60.4L1309.5 102.0"/>
<path d="M1266.2 59.9L1312.0 101.0"/>
<path d="M1270.0 59.3L1314.5 100.0"/>
<path d="M1273.8 58.9L1317.0 99.0"/>
<path d="M1277.5 58.5L1319.5 98.0"/>
<path d="M1281.3 58.1L1322.0 97.0"/>
<path d="M1285.1 57.8L1324.3 97.0"/>
<path d="M1288.8 57.4L1326.7 97.0"/>
<path d="M1292.6 57.0L1329.0 97.0"/>
<path d="M1296.3 57.0L1331.3 97.0"/>
<path d="M1300.1 57.0L1333.7 97.0"/>
<path d="M1303.8 57.0L1336.0 97.0"/>
<path d="M1307.6 57.0L1340.2 97.0"/>
<path d="M1311.3 57.0L1344.5 97.0"/>
<path d="M1315.0 57.0L1348.8 97.0"/>
<path d="M1318.8 57.0L1353.0 97.0"/>
<path d="M1322.5 57.0L1357.2 97.0"/>
<path d="M1326.3 57.0L1361.5 97.0"/>
<path d="M1330.0 57.0L1365.8 97.0"/>
<path d="M1334.6 57.3L1370.0 97.0"/>
<path d="M1339.1 57.6L1375.2 97.0"/>
<path d="M1343.7 58.0L1380.3 97.0"/>
<path d="M1348.2 58.3L1385.5 97.0"/>
<path d="M1352.8 58.6L1390.7 97.0"/>
<path d="M1355.8 59.4L1395.8 97.0"/>
<path d="M1358.8 60.1L1401.0 97.0"/>
<path d="M1361.8 60.9L1405.8 97.0"/>
<path d="M1364.8 61.6L1410.5 97.0"/>
<path d="M1369.8 61.8L1415.2 97.0"/>
<path d="M1374.9 62.1L1420.0 97.0"/>
<path d="M1379.9 62.3L1424.5 96.8"/>
<path d="M1384.9 62.5L1429.0 96.5"/>
<path d="M1390.0 62.8L1433.5 96.2"/>
<path d="M1395.0 63.0L1438.0 96.0"/>
<path d="M1400.8 63.8L1444.8 98.0"/>
<path d="M1406.5 64.5L1451.5 100.0"/>
<path d="M1412.2 65.2L1458.2 102.0"/>
<path d="M1418.0 66.0L1465.0 104.0"/>
<path d="M1421.0 66.9L1471.8 105.0"/>
<path d="M1424.0 67.8L1478.5 106.0"/>
<path d="M1427.0 68.6L1485.2 107.0"/>
<path d="M1430.0 69.5L1492.0 108.0"/>
<path d="M1431.7 70.2L1499.0 111.0"/>
<path d="M1433.3 71.0L1506.0 114.0"/>
<path d="M1435.0 71.8L1513.0 117.0"/>
<path d="M1436.7 72.5L1520.0 120.0"/>
<path d="M1438.3 73.2L1525.0 123.5"/>
<path d="M1440.0 74.0L1530.0 127.0"/>
<path d="M1441.5 74.4L1535.0 130.5"/>
<path d="M1443.0 74.7L1540.0 134.0"/>
<path d="M1444.5 75.1L1542.0 136.3"/>
<path d="M1446.0 75.5L1544.0 138.7"/>
<path d="M1447.5 75.9L1546.0 141.0"/>
<path d="M1449.0 76.2L1548.0 143.3"/>
<path d="M1450.5 76.6L1550.0 145.7"/>
<path d="M1452.7 77.0L1552.0 148.0"/>
<path d="M1454.8 77.5L1554.2 150.0"/>
<path d="M1457.0 77.9L1556.3 152.0"/>
<path d="M1459.1 78.3L1558.5 154.0"/>
<path d="M1461.3 78.7L1560.7 156.0"/>
<path d="M1463.4 79.2L1562.8 158.0"/>
<path d="M1465.6 79.6L1565.0 160.0"/>
<path d="M1467.5 79.6L1567.2 160.7"/>
<path d="M1469.3 79.6L1569.3 161.3"/>
<path d="M1471.2 79.6L1571.5 162.0"/>
<path d="M1473.1 79.6L1573.7 162.7"/>
<path d="M1475.0 79.6L1575.8 163.3"/>
<path d="M1476.8 79.6L1578.0 164.0"/>
<path d="M1478.7 79.6L1579.8 163.0"/>
<path d="M1480.6 79.6L1581.5 162.0"/>
<path d="M1484.3 77.7L1583.2 161.0"/>
<path d="M1488.1 75.8L1585.0 160.0"/>
<path d="M1491.8 74.0L1586.7 157.3"/>
<path d="M1495.6 72.1L1588.3 154.7"/>
<path d="M1499.1 71.1L1590.0 152.0"/>
<path d="M1502.5 70.0L1592.0 146.3"/>
<path d="M1506.0 69.0L1594.0 140.7"/>
<path d="M1509.7 67.5L1596.0 135.0"/>
<path d="M1513.4 66.0L1597.3 129.3"/>
<path d="M1517.1 64.5L1598.7 123.7"/>
<path d="M1520.9 63.1L1600.0 118.0"/>
<path d="M1524.6 61.6L1602.0 112.7"/>
<path d="M1528.3 60.1L1604.0 107.3"/>
<path d="M1532.0 58.6L1606.0 102.0"/>
<path d="M1535.3 57.3L1609.0 98.7"/>
<path d="M1538.7 56.0L1612.0 95.3"/>
<path d="M1542.0 54.7L1615.0 92.0"/>
<path d="M1548.0 54.5L1619.3 89.3"/>
<path d="M1554.0 54.3L1623.7 86.7"/>
<path d="M1560.0 54.1L1628.0 84.0"/>
<path d="M1566.0 54.0L1632.2 81.8"/>
<path d="M1572.0 53.8L1636.5 79.5"/>
<path d="M1578.0 53.6L1640.8 77.2"/>
<path d="M1584.0 53.4L1645.0 75.0"/>
<path d="M1588.3 53.4L1650.0 74.7"/>
<path d="M1592.7 53.4L1655.0 74.3"/>
<path d="M1597.0 53.4L1660.0 74.0"/>
<path d="M1601.3 53.4L1663.0 74.4"/>
<path d="M1605.7 53.4L1666.0 74.8"/>
<path d="M1610.0 53.4L1669.0 75.2"/>
<path d="M1614.3 53.0L1672.0 75.6"/>
<path d="M1618.7 52.5L1675.0 76.0"/>
<path d="M1623.0 52.1L1678.8 76.0"/>
<path d="M1627.3 51.7L1682.5 76.0"/>
<path d="M1631.7 51.2L1686.2 76.0"/>
<path d="M1636.0 50.8L1690.0 76.0"/>
<path d="M1641.2 50.7L1693.8 76.0"/>
<path d="M1646.4 50.5L1697.5 76.0"/>
<path d="M1651.6 50.4L1701.2 76.0"/>
<path d="M1656.8 50.3L1705.0 76.0"/>
<path d="M1662.0 50.1L1708.8 76.0"/>
<path d="M1667.2 50.0L1712.5 76.0"/>
<path d="M1672.4 49.9L1716.2 76.0"/>
<path d="M1677.6 49.8L1720.0 76.0"/>
<path d="M1682.8 49.6L1723.3 75.8"/>
<path d="M1688.0 49.5L1726.7 75.7"/>
<path d="M1693.2 49.5L1730.0 75.5"/>
<path d="M1698.4 49.5L1733.3 75.3"/>
<path d="M1703.6 49.5L1736.7 75.2"/>
<path d="M1708.8 49.5L1740.0 75.0"/>
<path d="M1714.0 49.5L1745.0 75.8"/>
<path d="M1719.2 49.5L1750.0 76.5"/>
<path d="M1724.4 49.5L1755.0 77.2"/>
<path d="M1729.6 49.5L1760.0 78.0"/>
<path d="M1734.8 49.5L1765.0 78.5"/>
<path d="M1740.0 49.5L1770.0 79.0"/>
<path d="M1745.1 49.8L1775.0 79.5"/>
<path d="M1750.2 50.0L1780.0 80.0"/>
<path d="M1755.4 50.3L1785.0 80.5"/>
<path d="M1760.5 50.5L1790.0 81.0"/>
<path d="M1765.6 50.8L1794.8 79.8"/>
<path d="M1769.3 51.2L1799.5 78.5"/>
<path d="M1773.0 51.5L1804.2 77.2"/>
<path d="M1776.7 51.9L1809.0 76.0"/>
<path d="M1780.4 52.3L1813.7 79.7"/>
<path d="M1784.1 52.7L1818.3 83.3"/>
<path d="M1787.8 53.0L1823.0 87.0"/>
<path d="M1791.5 53.4L1830.3 88.3"/>
<path d="M1795.6 53.2L1837.7 89.7"/>
<path d="M1799.7 52.9L1845.0 91.0"/>
<path d="M1803.8 52.7L1855.0 91.5"/>
<path d="M1807.8 52.5L1865.0 92.0"/>
<path d="M1811.9 52.2L1881.0 89.5"/>
<path d="M1816.0 52.0L1897.0 87.0"/>
</g>
<g stroke="#0000FF" stroke-opacity="0.45" stroke-width="2.2" fill="none">
<path d="M1147.0 121.0L1169.0 121.0"/>
<path d="M1149.7 120.3L1170.8 120.0"/>
<path d="M1152.3 119.7L1172.7 119.0"/>
<path d="M1155.0 119.0L1174.5 118.0"/>
<path d="M1157.7 118.3L1176.3 117.0"/>
<path d="M1160.3 117.7L1178.2 116.0"/>
<path d="M1163.0 117.0L1180.0 115.0"/>
<path d="M1169.3 113.1L1184.9 110.7"/>
<path d="M1175.6 109.3L1189.7 106.4"/>
<path d="M1181.9 105.4L1194.6 102.1"/>
<path d="M1188.1 101.6L1199.4 97.9"/>
<path d="M1194.4 97.7L1204.3 93.6"/>
<path d="M1200.7 93.9L1209.1 89.3"/>
<path d="M1207.0 90.0L1214.0 85.0"/>
<path d="M1214.5 93.0L1227.0 89.5"/>
<path d="M1222.0 96.0L1240.0 94.0"/>
<path d="M1226.5 101.0L1243.5 100.5"/>
<path d="M1231.0 106.0L1247.0 107.0"/>
<path d="M1234.5 113.0L1251.5 114.5"/>
<path d="M1238.0 120.0L1256.0 122.0"/>
<path d="M1241.5 129.0L1260.5 131.0"/>
<path d="M1245.0 138.0L1265.0 140.0"/>
<path d="M1245.7 138.4L1267.9 140.4"/>
<path d="M1246.4 138.9L1270.7 140.9"/>
<path d="M1247.1 139.3L1273.6 141.3"/>
<path d="M1247.9 139.7L1276.4 141.7"/>
<path d="M1248.6 140.1L1279.3 142.1"/>
<path d="M1249.3 140.6L1282.1 142.6"/>
<path d="M1250.0 141.0L1285.0 143.0"/>
<path d="M1252.4 141.0L1285.6 142.6"/>
<path d="M1254.8 141.0L1286.2 142.2"/>
<path d="M1257.2 141.0L1286.8 141.8"/>
<path d="M1259.6 141.0L1287.4 141.4"/>
<path d="M1262.0 141.0L1288.0 141.0"/>
<path d="M1265.3 138.4L1289.3 136.6"/>
<path d="M1268.6 135.9L1290.6 132.1"/>
<path d="M1271.9 133.3L1291.9 127.7"/>
<path d="M1275.1 130.7L1293.1 123.3"/>
<path d="M1278.4 128.1L1294.4 118.9"/>
<path d="M1281.7 125.6L1295.7 114.4"/>
<path d="M1285.0 123.0L1297.0 110.0"/>
<path d="M1288.7 119.7L1300.3 106.5"/>
<path d="M1292.3 116.3L1303.7 103.0"/>
<path d="M1296.0 113.0L1307.0 99.5"/>
<path d="M1299.7 109.7L1310.3 96.0"/>
<path d="M1303.3 106.3L1313.7 92.5"/>
<path d="M1307.0 103.0L1317.0 89.0"/>
<path d="M1309.5 102.0L1320.2 87.0"/>
<path d="M1312.0 101.0L1323.3 85.0"/>
<path d="M1314.5 100.0L1326.5 83.0"/>
<path d="M1317.0 99.0L1329.7 81.0"/>
<path d="M1319.5 98.0L1332.8 79.0"/>
<path d="M1322.0 97.0L1336.0 77.0"/>
<path d="M1324.3 97.0L1337.8 76.7"/>
<path d="M1326.7 97.0L1339.7 76.3"/>
<path d="M1329.0 97.0L1341.5 76.0"/>
<path d="M1331.3 97.0L1343.3 75.7"/>
<path d="M1333.7 97.0L1345.2 75.3"/>
<path d="M1336.0 97.0L1347.0 75.0"/>
<path d="M1340.2 97.0L1351.2 75.1"/>
<path d="M1344.5 97.0L1355.4 75.3"/>
<path d="M1348.8 97.0L1359.5 75.4"/>
<path d="M1353.0 97.0L1363.7 75.6"/>
<path d="M1357.2 97.0L1367.9 75.7"/>
<path d="M1361.5 97.0L1372.1 75.9"/>
<path d="M1365.8 97.0L1376.2 76.0"/>
<path d="M1370.0 97.0L1380.4 76.1"/>
<path d="M1375.2 97.0L1385.5 76.3"/>
<path d="M1380.3 97.0L1390.6 76.4"/>
<path d="M1385.5 97.0L1395.7 76.6"/>
<path d="M1390.7 97.0L1400.8 76.7"/>
<path d="M1395.8 97.0L1405.9 76.9"/>
<path d="M1401.0 97.0L1411.0 77.0"/>
<path d="M1405.8 97.0L1413.8 79.0"/>
<path d="M1410.5 97.0L1416.5 81.0"/>
<path d="M1415.2 97.0L1419.2 83.0"/>
<path d="M1420.0 97.0L1422.0 85.0"/>
<path d="M1424.5 96.8L1427.0 87.8"/>
<path d="M1429.0 96.5L1432.0 90.5"/>
<path d="M1433.5 96.2L1437.0 93.2"/>
<path d="M1438.0 96.0L1442.0 96.0"/>
<path d="M1444.8 98.0L1449.5 98.5"/>
<path d="M1451.5 100.0L1457.0 101.0"/>
<path d="M1458.2 102.0L1464.5 103.5"/>
<path d="M1465.0 104.0L1472.0 106.0"/>
<path d="M1471.8 105.0L1478.8 107.1"/>
<path d="M1478.5 106.0L1485.5 108.2"/>
<path d="M1485.2 107.0L1492.2 109.4"/>
<path d="M1492.0 108.0L1499.0 110.5"/>
<path d="M1499.0 111.0L1506.0 113.6"/>
<path d="M1506.0 114.0L1513.0 116.8"/>
<path d="M1513.0 117.0L1520.0 119.9"/>
<path d="M1520.0 120.0L1527.0 123.0"/>
<path d="M1525.0 123.5L1532.8 127.8"/>
<path d="M1530.0 127.0L1538.5 132.5"/>
<path d="M1535.0 130.5L1544.2 137.2"/>
<path d="M1540.0 134.0L1550.0 142.0"/>
<path d="M1542.0 136.3L1552.3 145.0"/>
<path d="M1544.0 138.7L1554.7 148.0"/>
<path d="M1546.0 141.0L1557.0 151.0"/>
<path d="M1548.0 143.3L1559.3 154.0"/>
<path d="M1550.0 145.7L1561.7 157.0"/>
<path d="M1552.0 148.0L1564.0 160.0"/>
<path d="M1554.2 150.0L1566.3 161.8"/>
<path d="M1556.3 152.0L1568.6 163.6"/>
<path d="M1558.5 154.0L1570.9 165.4"/>
<path d="M1560.7 156.0L1573.2 167.2"/>
<path d="M1562.8 158.0L1575.5 169.1"/>
<path d="M1565.0 160.0L1577.8 170.9"/>
<path d="M1567.2 160.7L1580.0 171.4"/>
<path d="M1569.3 161.3L1582.3 171.8"/>
<path d="M1571.5 162.0L1584.6 172.3"/>
<path d="M1573.7 162.7L1586.9 172.8"/>
<path d="M1575.8 163.3L1589.2 173.3"/>
<path d="M1578.0 164.0L1591.5 173.8"/>
<path d="M1579.8 163.0L1593.4 172.6"/>
<path d="M1581.5 162.0L1595.2 171.4"/>
<path d="M1583.2 161.0L1597.1 170.2"/>
<path d="M1585.0 160.0L1599.0 169.0"/>
<path d="M1586.7 157.3L1601.3 164.7"/>
<path d="M1588.3 154.7L1603.7 160.3"/>
<path d="M1590.0 152.0L1606.0 156.0"/>
<path d="M1592.0 146.3L1608.7 149.7"/>
<path d="M1594.0 140.7L1611.3 143.3"/>
<path d="M1596.0 135.0L1614.0 137.0"/>
<path d="M1597.3 129.3L1616.0 130.7"/>
<path d="M1598.7 123.7L1618.0 124.3"/>
<path d="M1600.0 118.0L1620.0 118.0"/>
<path d="M1602.0 112.7L1622.2 112.9"/>
<path d="M1604.0 107.3L1624.4 107.8"/>
<path d="M1606.0 102.0L1626.7 102.7"/>
<path d="M1609.0 98.7L1629.9 99.6"/>
<path d="M1612.0 95.3L1633.1 96.4"/>
<path d="M1615.0 92.0L1636.3 93.3"/>
<path d="M1619.3 89.3L1640.9 90.9"/>
<path d="M1623.7 86.7L1645.4 88.4"/>
<path d="M1628.0 84.0L1650.0 86.0"/>
<path d="M1632.2 81.8L1648.2 78.8"/>
<path d="M1636.5 79.5L1646.5 71.5"/>
<path d="M1640.8 77.2L1649.3 68.2"/>
<path d="M1645.0 75.0L1652.2 65.0"/>
<path d="M1650.0 74.7L1655.8 63.7"/>
<path d="M1655.0 74.3L1659.4 62.3"/>
<path d="M1660.0 74.0L1663.0 61.0"/>
<path d="M1663.0 74.4L1666.0 61.4"/>
<path d="M1666.0 74.8L1669.0 61.8"/>
<path d="M1669.0 75.2L1672.0 62.2"/>
<path d="M1672.0 75.6L1675.0 62.6"/>
<path d="M1675.0 76.0L1678.0 63.0"/>
<path d="M1678.8 76.0L1681.8 63.0"/>
<path d="M1682.5 76.0L1685.5 63.0"/>
<path d="M1686.2 76.0L1689.2 63.0"/>
<path d="M1690.0 76.0L1693.0 63.0"/>
<path d="M1693.8 76.0L1696.8 63.0"/>
<path d="M1697.5 76.0L1700.5 63.0"/>
<path d="M1701.2 76.0L1704.2 63.0"/>
<path d="M1705.0 76.0L1708.0 63.0"/>
<path d="M1708.8 76.0L1711.8 63.0"/>
<path d="M1712.5 76.0L1715.5 63.0"/>
<path d="M1716.2 76.0L1719.2 63.0"/>
<path d="M1720.0 76.0L1723.0 63.0"/>
<path d="M1723.3 75.8L1727.6 63.1"/>
<path d="M1726.7 75.7L1732.2 63.2"/>
<path d="M1730.0 75.5L1736.8 63.2"/>
<path d="M1733.3 75.3L1741.3 63.3"/>
<path d="M1736.7 75.2L1745.0 63.5"/>
<path d="M1740.0 75.0L1748.7 63.7"/>
<path d="M1745.0 75.8L1754.0 64.8"/>
<path d="M1750.0 76.5L1759.3 65.8"/>
<path d="M1755.0 77.2L1764.7 66.9"/>
<path d="M1760.0 78.0L1770.0 68.0"/>
<path d="M1765.0 78.5L1774.7 69.2"/>
<path d="M1770.0 79.0L1779.3 70.3"/>
<path d="M1775.0 79.5L1784.0 71.5"/>
<path d="M1780.0 80.0L1788.7 72.7"/>
<path d="M1785.0 80.5L1793.3 73.8"/>
<path d="M1790.0 81.0L1798.0 75.0"/>
<path d="M1794.8 79.8L1801.2 74.0"/>
<path d="M1799.5 78.5L1804.5 73.0"/>
<path d="M1804.2 77.2L1807.8 72.0"/>
<path d="M1809.0 76.0L1811.0 71.0"/>
<path d="M1813.7 79.7L1818.7 82.2"/>
<path d="M1818.3 83.3L1826.3 93.3"/>
<path d="M1823.0 87.0L1834.5 100.0"/>
<path d="M1830.3 88.3L1845.3 104.3"/>
<path d="M1837.7 89.7L1852.7 105.5"/>
<path d="M1845.0 91.0L1860.0 106.6"/>
<path d="M1855.0 91.5L1870.0 106.9"/>
<path d="M1865.0 92.0L1880.0 107.2"/>
<path d="M1881.0 89.5L1896.0 104.5"/>
<path d="M1897.0 87.0L1908.0 79.0"/>
</g>
<g stroke="#FFA500" stroke-opacity="0.00" stroke-width="0.0" fill="none">
<path d="M1730.9 161.9L1792.3 53.4"/>
<path d="M1732.6 161.8L1793.7 53.3"/>
<path d="M1734.2 161.7L1795.2 53.2"/>
<path d="M1735.8 161.6L1796.6 53.1"/>
<path d="M1737.5 161.5L1798.0 53.0"/>
<path d="M1739.1 161.4L1799.5 52.9"/>
<path d="M1740.7 161.2L1800.9 52.9"/>
<path d="M1742.4 161.1L1802.3 52.8"/>
<path d="M1744.0 161.0L1803.7 52.7"/>
<path d="M1745.6 160.9L1805.2 52.6"/>
<path d="M1747.3 160.8L1806.6 52.5"/>
<path d="M1748.9 160.7L1808.0 52.5"/>
<path d="M1750.5 160.5L1809.5 52.4"/>
<path d="M1752.2 160.4L1810.9 52.3"/>
<path d="M1753.8 160.3L1812.3 52.2"/>
<path d="M1755.4 160.2L1813.8 52.1"/>
<path d="M1757.1 160.1L1815.2 52.0"/>
</g>
<g stroke="#FF0000" stroke-opacity="0.55" stroke-width="1.9" fill="none">
<path d="M1792.3 53.4L1831.8 88.6"/>
<path d="M1793.7 53.3L1834.4 89.1"/>
<path d="M1795.2 53.2L1836.9 89.5"/>
<path d="M1796.6 53.1L1839.5 90.0"/>
<path d="M1798.0 53.0L1842.1 90.5"/>
<path d="M1799.5 52.9L1844.6 90.9"/>
<path d="M1800.9 52.9L1848.0 91.1"/>
<path d="M1802.3 52.8L1851.5 91.3"/>
<path d="M1803.7 52.7L1855.0 91.5"/>
<path d="M1805.2 52.6L1858.5 91.7"/>
<path d="M1806.6 52.5L1862.0 91.8"/>
<path d="M1808.0 52.5L1865.8 91.9"/>
<path d="M1809.5 52.4L1871.4 91.0"/>
<path d="M1810.9 52.3L1877.0 90.1"/>
<path d="M1812.3 52.2L1882.6 89.3"/>
<path d="M1813.8 52.1L1888.2 88.4"/>
<path d="M1815.2 52.0L1893.8 87.5"/>
</g>
<g stroke="#0000FF" stroke-opacity="0.45" stroke-width="2.2" fill="none">
<path d="M1831.8 88.6L1846.8 104.6"/>
<path d="M1834.4 89.1L1849.4 105.0"/>
<path d="M1836.9 89.5L1851.9 105.4"/>
<path d="M1839.5 90.0L1854.5 105.7"/>
<path d="M1842.1 90.5L1857.1 106.1"/>
<path d="M1844.6 90.9L1859.6 106.5"/>
<path d="M1848.0 91.1L1863.0 106.7"/>
<path d="M1851.5 91.3L1866.5 106.8"/>
<path d="M1855.0 91.5L1870.0 106.9"/>
<path d="M1858.5 91.7L1873.5 107.0"/>
<path d="M1862.0 91.8L1877.0 107.1"/>
<path d="M1865.8 91.9L1880.8 107.1"/>
<path d="M1871.4 91.0L1886.4 106.1"/>
<path d="M1877.0 90.1L1892.0 105.2"/>
<path d="M1882.6 89.3L1897.2 102.0"/>
<path d="M1888.2 88.4L1901.4 93.0"/>
<path d="M1893.8 87.5L1905.6 84.1"/>
</g>
<g stroke="#FFA500" stroke-opacity="0.55" stroke-width="2.7" fill="none">
<path d="M1022.2 339.1L1077.2 232.2"/>
<path d="M1025.8 339.4L1081.0 232.0"/>
<path d="M1029.3 339.6L1084.8 231.8"/>
<path d="M1032.9 339.9L1088.7 231.6"/>
<path d="M1036.5 340.1L1092.5 231.4"/>
<path d="M1040.0 340.4L1096.3 231.3"/>
<path d="M1043.6 340.6L1100.1 231.1"/>
<path d="M1047.2 340.9L1103.9 230.9"/>
<path d="M1050.7 341.2L1107.8 230.7"/>
<path d="M1054.3 341.4L1111.6 230.5"/>
<path d="M1057.9 341.7L1115.4 230.3"/>
<path d="M1061.4 341.9L1119.2 230.1"/>
<path d="M1065.0 342.2L1123.0 229.9"/>
<path d="M1069.3 340.5L1126.8 229.8"/>
<path d="M1073.7 338.7L1130.7 229.6"/>
<path d="M1078.0 337.0L1134.5 229.4"/>
<path d="M1083.0 331.9L1138.3 229.2"/>
<path d="M1088.0 326.8L1142.3 231.4"/>
<path d="M1093.0 321.6L1146.2 233.6"/>
<path d="M1098.0 316.5L1150.2 235.7"/>
<path d="M1102.4 317.2L1154.2 237.9"/>
<path d="M1106.8 318.0L1158.2 240.1"/>
<path d="M1111.2 318.7L1162.1 242.3"/>
<path d="M1115.6 319.5L1166.1 244.5"/>
<path d="M1120.0 320.2L1170.1 246.6"/>
<path d="M1124.1 321.4L1174.0 248.8"/>
<path d="M1128.1 322.6L1178.0 251.0"/>
<path d="M1132.2 323.9L1183.1 249.8"/>
<path d="M1136.3 325.1L1188.2 248.7"/>
<path d="M1140.3 326.3L1193.3 247.5"/>
<path d="M1144.4 327.5L1195.7 246.8"/>
<path d="M1147.9 328.4L1198.2 246.0"/>
<path d="M1151.4 329.2L1200.6 245.3"/>
<path d="M1154.9 330.1L1203.1 244.5"/>
<path d="M1158.5 331.0L1205.5 243.8"/>
<path d="M1162.0 331.9L1209.6 243.1"/>
<path d="M1165.5 332.7L1213.7 242.4"/>
<path d="M1169.0 333.6L1217.8 241.7"/>
<path d="M1173.0 334.2L1221.8 241.0"/>
<path d="M1177.1 334.8L1225.9 240.3"/>
<path d="M1181.2 335.5L1230.0 239.6"/>
<path d="M1185.2 336.1L1233.2 239.2"/>
<path d="M1189.2 336.7L1236.5 238.8"/>
<path d="M1193.3 337.3L1239.8 238.3"/>
<path d="M1197.0 338.3L1243.0 237.9"/>
<path d="M1200.6 339.4L1246.2 237.5"/>
<path d="M1204.3 340.4L1249.5 237.1"/>
<path d="M1208.0 340.6L1253.9 235.9"/>
<path d="M1211.6 340.7L1258.3 234.7"/>
<path d="M1215.3 340.9L1261.9 234.5"/>
<path d="M1219.0 341.1L1265.4 234.3"/>
<path d="M1222.7 341.3L1269.0 234.1"/>
<path d="M1226.3 341.4L1272.5 233.9"/>
<path d="M1230.0 341.6L1276.1 233.7"/>
<path d="M1233.9 341.6L1279.7 233.4"/>
<path d="M1237.8 341.6L1283.2 233.2"/>
<path d="M1241.7 341.6L1286.8 233.0"/>
<path d="M1245.6 341.6L1290.3 232.8"/>
<path d="M1249.5 341.6L1293.9 232.6"/>
<path d="M1252.9 341.5L1297.4 232.4"/>
<path d="M1256.3 341.5L1301.0 232.2"/>
<path d="M1259.7 341.4L1304.8 232.0"/>
<path d="M1263.1 341.3L1308.5 231.9"/>
<path d="M1266.5 341.2L1312.3 231.8"/>
<path d="M1269.9 341.1L1316.1 231.6"/>
<path d="M1273.3 341.1L1319.9 231.4"/>
<path d="M1276.7 341.0L1323.7 231.3"/>
<path d="M1280.4 340.9L1327.4 231.2"/>
<path d="M1284.0 340.9L1331.2 231.0"/>
<path d="M1287.7 340.8L1335.0 230.8"/>
<path d="M1291.3 340.8L1338.8 230.7"/>
<path d="M1295.0 340.7L1342.5 230.6"/>
<path d="M1298.7 340.6L1346.3 230.4"/>
<path d="M1302.3 340.6L1350.3 230.7"/>
<path d="M1306.0 340.5L1354.2 231.0"/>
<path d="M1309.6 340.5L1358.2 231.3"/>
<path d="M1313.3 340.4L1362.2 231.6"/>
<path d="M1317.0 340.5L1365.2 231.6"/>
<path d="M1320.6 340.6L1368.3 231.6"/>
<path d="M1324.3 340.8L1372.1 231.4"/>
<path d="M1328.0 340.9L1376.0 231.3"/>
<path d="M1331.7 341.0L1379.8 231.2"/>
<path d="M1335.3 341.1L1383.6 231.0"/>
<path d="M1339.0 341.2L1387.4 230.8"/>
<path d="M1342.7 341.4L1391.2 230.7"/>
<path d="M1346.3 341.5L1395.1 230.6"/>
<path d="M1350.0 341.6L1398.9 230.4"/>
<path d="M1354.1 341.0L1402.7 230.2"/>
<path d="M1358.1 340.4L1406.6 230.1"/>
<path d="M1362.2 339.8L1410.4 229.9"/>
<path d="M1368.3 338.6L1414.3 229.7"/>
<path d="M1374.4 337.3L1418.1 229.5"/>
<path d="M1381.3 326.5L1422.0 229.4"/>
<path d="M1388.1 315.8L1425.8 229.2"/>
<path d="M1395.0 305.0L1429.4 230.1"/>
<path d="M1400.3 308.8L1433.0 231.0"/>
<path d="M1405.7 312.7L1437.6 233.6"/>
<path d="M1411.0 316.5L1442.2 236.2"/>
<path d="M1415.1 317.7L1446.9 238.9"/>
<path d="M1419.2 319.0L1451.5 241.5"/>
<path d="M1423.3 320.2L1456.1 244.1"/>
<path d="M1427.4 321.8L1460.8 246.8"/>
<path d="M1431.4 323.5L1465.4 249.4"/>
<path d="M1435.5 325.1L1470.0 252.0"/>
<path d="M1439.6 326.3L1473.2 251.5"/>
<path d="M1443.6 327.6L1476.3 251.0"/>
<path d="M1447.7 328.8L1479.5 250.5"/>
<path d="M1451.8 330.0L1482.4 250.0"/>
<path d="M1455.9 331.2L1485.2 249.6"/>
<path d="M1460.0 332.4L1488.1 249.1"/>
<path d="M1463.3 332.9L1491.0 248.6"/>
<path d="M1466.7 333.5L1494.6 246.8"/>
<path d="M1470.0 334.0L1498.2 245.1"/>
<path d="M1474.2 334.6L1501.7 244.4"/>
<path d="M1478.4 335.1L1505.2 243.7"/>
<path d="M1482.6 335.7L1508.8 243.0"/>
<path d="M1486.8 336.2L1512.3 242.3"/>
<path d="M1491.0 336.8L1516.5 241.5"/>
<path d="M1494.6 338.2L1520.8 240.6"/>
<path d="M1498.2 339.6L1525.0 239.8"/>
<path d="M1502.2 339.6L1529.3 238.9"/>
<path d="M1506.3 339.6L1533.5 238.1"/>
<path d="M1510.3 339.6L1537.2 237.8"/>
<path d="M1514.3 339.6L1540.8 237.5"/>
<path d="M1518.3 339.6L1544.5 237.3"/>
<path d="M1522.4 339.6L1548.1 237.0"/>
<path d="M1526.4 339.6L1551.8 236.7"/>
<path d="M1530.4 339.7L1553.2 234.5"/>
<path d="M1534.5 339.8L1557.4 234.3"/>
<path d="M1538.5 339.9L1561.7 234.1"/>
<path d="M1542.5 340.0L1565.9 233.9"/>
<path d="M1546.5 340.1L1570.1 233.7"/>
<path d="M1550.6 340.2L1574.3 233.5"/>
<path d="M1554.6 340.3L1578.6 233.3"/>
<path d="M1558.6 340.4L1582.8 233.1"/>
<path d="M1562.7 340.5L1586.3 232.9"/>
<path d="M1566.7 340.6L1589.8 232.8"/>
<path d="M1570.7 340.7L1593.4 232.6"/>
<path d="M1574.7 340.8L1596.9 232.4"/>
<path d="M1578.8 340.9L1600.4 232.2"/>
<path d="M1582.8 341.0L1604.0 232.0"/>
<path d="M1586.8 341.0L1607.5 231.9"/>
<path d="M1590.9 341.0L1611.0 231.7"/>
<path d="M1594.9 341.0L1614.8 231.6"/>
<path d="M1598.9 341.0L1618.7 231.4"/>
<path d="M1602.9 341.0L1622.5 231.3"/>
<path d="M1607.0 341.0L1626.3 231.1"/>
<path d="M1611.0 341.0L1630.1 231.0"/>
<path d="M1614.5 341.0L1634.0 230.8"/>
<path d="M1618.0 341.0L1637.8 230.7"/>
<path d="M1621.6 341.0L1641.7 231.3"/>
<path d="M1625.1 341.0L1645.5 231.9"/>
<path d="M1628.6 341.0L1649.4 232.5"/>
<path d="M1632.2 341.0L1653.3 233.1"/>
<path d="M1635.7 341.0L1657.3 233.0"/>
<path d="M1639.2 341.0L1661.4 232.9"/>
<path d="M1643.2 340.8L1665.4 232.8"/>
<path d="M1647.3 340.6L1669.4 232.7"/>
<path d="M1651.3 340.4L1673.4 232.6"/>
<path d="M1655.3 340.2L1677.5 232.5"/>
<path d="M1659.3 340.0L1681.5 232.4"/>
<path d="M1663.4 339.8L1685.3 232.3"/>
<path d="M1667.4 339.6L1689.1 232.2"/>
<path d="M1671.0 337.5L1692.9 232.1"/>
<path d="M1674.5 335.4L1696.7 232.0"/>
<path d="M1678.0 335.2L1700.5 231.9"/>
<path d="M1681.5 335.0L1704.3 231.8"/>
<path d="M1685.0 334.9L1708.1 231.6"/>
<path d="M1688.5 334.7L1711.9 231.5"/>
<path d="M1692.1 334.7L1715.7 231.4"/>
<path d="M1695.7 334.7L1719.5 231.3"/>
<path d="M1699.2 334.7L1723.3 231.2"/>
<path d="M1702.8 334.7L1727.1 231.1"/>
<path d="M1706.4 334.7L1730.9 231.0"/>
<path d="M1710.0 334.7L1734.6 232.3"/>
<path d="M1712.3 334.8L1738.2 233.6"/>
<path d="M1714.7 334.8L1741.9 234.8"/>
<path d="M1717.0 334.9L1745.5 236.1"/>
<path d="M1719.3 334.9L1749.2 237.4"/>
<path d="M1721.7 335.0L1753.0 237.2"/>
<path d="M1724.0 335.1L1756.8 237.1"/>
<path d="M1726.3 335.1L1760.6 236.9"/>
<path d="M1728.7 335.2L1764.4 236.7"/>
<path d="M1731.0 335.3L1768.3 236.5"/>
<path d="M1733.3 335.3L1772.1 236.4"/>
<path d="M1735.7 335.4L1775.9 236.2"/>
<path d="M1738.0 335.4L1779.7 236.0"/>
<path d="M1740.3 335.5L1783.5 235.9"/>
<path d="M1742.7 335.6L1787.3 235.7"/>
<path d="M1745.0 335.6L1791.1 235.5"/>
<path d="M1747.3 335.7L1794.9 235.4"/>
<path d="M1749.7 335.8L1798.8 235.2"/>
<path d="M1752.0 335.8L1802.6 235.0"/>
<path d="M1754.3 335.9L1806.4 234.8"/>
<path d="M1756.7 335.9L1810.2 234.7"/>
<path d="M1759.0 336.0L1814.0 234.5"/>
</g>
<g stroke="#FF0000" stroke-opacity="0.60" stroke-width="2.1" fill="none">
<path d="M1077.2 232.2L1161.5 277.0"/>
<path d="M1081.0 232.0L1164.2 276.8"/>
<path d="M1084.8 231.8L1166.9 276.6"/>
<path d="M1088.7 231.6L1169.6 276.4"/>
<path d="M1092.5 231.4L1172.3 276.2"/>
<path d="M1096.3 231.3L1175.0 276.0"/>
<path d="M1100.1 231.1L1178.2 276.8"/>
<path d="M1103.9 230.9L1181.5 277.5"/>
<path d="M1107.8 230.7L1184.8 278.2"/>
<path d="M1111.6 230.5L1188.0 279.0"/>
<path d="M1115.4 230.3L1192.0 278.0"/>
<path d="M1119.2 230.1L1196.0 277.0"/>
<path d="M1123.0 229.9L1200.0 276.0"/>
<path d="M1126.8 229.8L1204.5 277.1"/>
<path d="M1130.7 229.6L1209.0 278.2"/>
<path d="M1134.5 229.4L1213.5 279.4"/>
<path d="M1138.3 229.2L1218.0 280.5"/>
<path d="M1142.3 231.4L1222.5 281.6"/>
<path d="M1146.2 233.6L1227.0 282.8"/>
<path d="M1150.2 235.7L1231.5 283.9"/>
<path d="M1154.2 237.9L1236.0 285.0"/>
<path d="M1158.2 240.1L1238.5 288.2"/>
<path d="M1162.1 242.3L1241.0 291.5"/>
<path d="M1166.1 244.5L1243.5 294.8"/>
<path d="M1170.1 246.6L1246.0 298.0"/>
<path d="M1174.0 248.8L1246.5 303.5"/>
<path d="M1178.0 251.0L1247.0 309.0"/>
<path d="M1183.1 249.8L1249.3 309.4"/>
<path d="M1188.2 248.7L1251.6 309.8"/>
<path d="M1193.3 247.5L1253.9 310.2"/>
<path d="M1195.7 246.8L1256.2 310.6"/>
<path d="M1198.2 246.0L1258.5 311.0"/>
<path d="M1200.6 245.3L1260.8 311.4"/>
<path d="M1203.1 244.5L1263.1 311.8"/>
<path d="M1205.5 243.8L1265.4 312.2"/>
<path d="M1209.6 243.1L1267.7 312.6"/>
<path d="M1213.7 242.4L1270.0 313.0"/>
<path d="M1217.8 241.7L1273.5 314.0"/>
<path d="M1221.8 241.0L1277.0 315.0"/>
<path d="M1225.9 240.3L1283.0 308.3"/>
<path d="M1230.0 239.6L1289.0 301.7"/>
<path d="M1233.2 239.2L1295.0 295.0"/>
<path d="M1236.5 238.8L1298.8 291.8"/>
<path d="M1239.8 238.3L1302.5 288.5"/>
<path d="M1243.0 237.9L1306.2 285.2"/>
<path d="M1246.2 237.5L1310.0 282.0"/>
<path d="M1249.5 237.1L1314.0 278.3"/>
<path d="M1253.9 235.9L1318.0 274.7"/>
<path d="M1258.3 234.7L1322.0 271.0"/>
<path d="M1261.9 234.5L1325.3 269.0"/>
<path d="M1265.4 234.3L1328.7 267.0"/>
<path d="M1269.0 234.1L1332.0 265.0"/>
<path d="M1272.5 233.9L1336.2 265.1"/>
<path d="M1276.1 233.7L1340.4 265.2"/>
<path d="M1279.7 233.4L1344.7 265.3"/>
<path d="M1283.2 233.2L1348.9 265.4"/>
<path d="M1286.8 233.0L1353.1 265.6"/>
<path d="M1290.3 232.8L1357.3 265.7"/>
<path d="M1293.9 232.6L1361.6 265.8"/>
<path d="M1297.4 232.4L1365.8 265.9"/>
<path d="M1301.0 232.2L1370.0 266.0"/>
<path d="M1304.8 232.0L1373.5 266.1"/>
<path d="M1308.5 231.9L1377.0 266.2"/>
<path d="M1312.3 231.8L1380.5 266.3"/>
<path d="M1316.1 231.6L1384.0 266.4"/>
<path d="M1319.9 231.4L1387.5 266.5"/>
<path d="M1323.7 231.3L1391.0 266.6"/>
<path d="M1327.4 231.2L1394.5 266.7"/>
<path d="M1331.2 231.0L1398.0 266.8"/>
<path d="M1335.0 230.8L1401.5 266.9"/>
<path d="M1338.8 230.7L1405.0 267.0"/>
<path d="M1342.5 230.6L1408.5 267.1"/>
<path d="M1346.3 230.4L1412.0 267.2"/>
<path d="M1350.3 230.7L1415.5 267.3"/>
<path d="M1354.2 231.0L1419.0 267.4"/>
<path d="M1358.2 231.3L1422.5 267.5"/>
<path d="M1362.2 231.6L1426.0 267.6"/>
<path d="M1365.2 231.6L1429.5 267.7"/>
<path d="M1368.3 231.6L1433.0 267.8"/>
<path d="M1372.1 231.4L1436.5 267.9"/>
<path d="M1376.0 231.3L1440.0 268.0"/>
<path d="M1379.8 231.2L1443.3 269.3"/>
<path d="M1383.6 231.0L1446.7 270.7"/>
<path d="M1387.4 230.8L1450.0 272.0"/>
<path d="M1391.2 230.7L1453.3 273.3"/>
<path d="M1395.1 230.6L1456.7 274.7"/>
<path d="M1398.9 230.4L1460.0 276.0"/>
<path d="M1402.7 230.2L1465.2 276.8"/>
<path d="M1406.6 230.1L1470.5 277.5"/>
<path d="M1410.4 229.9L1475.8 278.2"/>
<path d="M1414.3 229.7L1481.0 279.0"/>
<path d="M1418.1 229.5L1484.3 276.7"/>
<path d="M1422.0 229.4L1487.7 274.3"/>
<path d="M1425.8 229.2L1491.0 272.0"/>
<path d="M1429.4 230.1L1495.1 272.4"/>
<path d="M1433.0 231.0L1499.3 272.9"/>
<path d="M1437.6 233.6L1503.4 273.3"/>
<path d="M1442.2 236.2L1507.6 273.7"/>
<path d="M1446.9 238.9L1511.7 274.1"/>
<path d="M1451.5 241.5L1515.9 274.6"/>
<path d="M1456.1 244.1L1520.0 275.0"/>
<path d="M1460.8 246.8L1521.8 277.5"/>
<path d="M1465.4 249.4L1523.5 280.0"/>
<path d="M1470.0 252.0L1525.2 282.5"/>
<path d="M1473.2 251.5L1527.0 285.0"/>
<path d="M1476.3 251.0L1528.0 288.7"/>
<path d="M1479.5 250.5L1529.0 292.3"/>
<path d="M1482.4 250.0L1530.0 296.0"/>
<path d="M1485.2 249.6L1533.3 299.0"/>
<path d="M1488.1 249.1L1536.7 302.0"/>
<path d="M1491.0 248.6L1540.0 305.0"/>
<path d="M1494.6 246.8L1544.0 306.8"/>
<path d="M1498.2 245.1L1548.0 308.5"/>
<path d="M1501.7 244.4L1552.0 310.2"/>
<path d="M1505.2 243.7L1556.0 312.0"/>
<path d="M1508.8 243.0L1561.0 313.0"/>
<path d="M1512.3 242.3L1566.0 314.0"/>
<path d="M1516.5 241.5L1571.0 315.0"/>
<path d="M1520.8 240.6L1576.0 316.0"/>
<path d="M1525.0 239.8L1581.2 310.0"/>
<path d="M1529.3 238.9L1586.5 304.0"/>
<path d="M1533.5 238.1L1591.8 298.0"/>
<path d="M1537.2 237.8L1597.0 292.0"/>
<path d="M1540.8 237.5L1601.7 288.0"/>
<path d="M1544.5 237.3L1606.3 284.0"/>
<path d="M1548.1 237.0L1611.0 280.0"/>
<path d="M1551.8 236.7L1614.7 276.7"/>
<path d="M1553.2 234.5L1618.3 273.3"/>
<path d="M1557.4 234.3L1622.0 270.0"/>
<path d="M1561.7 234.1L1625.3 268.0"/>
<path d="M1565.9 233.9L1628.7 266.0"/>
<path d="M1570.1 233.7L1632.0 264.0"/>
<path d="M1574.3 233.5L1635.6 264.1"/>
<path d="M1578.6 233.3L1639.2 264.2"/>
<path d="M1582.8 233.1L1642.7 264.3"/>
<path d="M1586.3 232.9L1646.3 264.4"/>
<path d="M1589.8 232.8L1649.9 264.5"/>
<path d="M1593.4 232.6L1653.5 264.6"/>
<path d="M1596.9 232.4L1657.1 264.7"/>
<path d="M1600.4 232.2L1660.6 264.8"/>
<path d="M1604.0 232.0L1664.2 264.9"/>
<path d="M1607.5 231.9L1667.8 265.1"/>
<path d="M1611.0 231.7L1671.4 265.2"/>
<path d="M1614.8 231.6L1674.9 265.3"/>
<path d="M1618.7 231.4L1678.5 265.4"/>
<path d="M1622.5 231.3L1682.1 265.5"/>
<path d="M1626.3 231.1L1685.7 265.6"/>
<path d="M1630.1 231.0L1689.3 265.7"/>
<path d="M1634.0 230.8L1692.8 265.8"/>
<path d="M1637.8 230.7L1696.4 265.9"/>
<path d="M1641.7 231.3L1700.0 266.0"/>
<path d="M1645.5 231.9L1704.0 266.0"/>
<path d="M1649.4 232.5L1708.0 266.1"/>
<path d="M1653.3 233.1L1712.0 266.1"/>
<path d="M1657.3 233.0L1716.0 266.1"/>
<path d="M1661.4 232.9L1720.0 266.2"/>
<path d="M1665.4 232.8L1724.0 266.2"/>
<path d="M1669.4 232.7L1728.0 266.2"/>
<path d="M1673.4 232.6L1732.0 266.3"/>
<path d="M1677.5 232.5L1736.0 266.3"/>
<path d="M1681.5 232.4L1740.0 266.4"/>
<path d="M1685.3 232.3L1744.0 266.4"/>
<path d="M1689.1 232.2L1748.0 266.4"/>
<path d="M1692.9 232.1L1752.0 266.5"/>
<path d="M1696.7 232.0L1756.0 266.5"/>
<path d="M1700.5 231.9L1760.0 266.5"/>
<path d="M1704.3 231.8L1764.0 266.6"/>
<path d="M1708.1 231.6L1768.0 266.6"/>
<path d="M1711.9 231.5L1772.0 266.6"/>
<path d="M1715.7 231.4L1776.0 266.7"/>
<path d="M1719.5 231.3L1780.0 266.7"/>
<path d="M1723.3 231.2L1784.0 266.8"/>
<path d="M1727.1 231.1L1788.0 266.8"/>
<path d="M1730.9 231.0L1792.0 266.8"/>
<path d="M1734.6 232.3L1796.0 266.9"/>
<path d="M1738.2 233.6L1800.0 266.9"/>
<path d="M1741.9 234.8L1804.0 266.9"/>
<path d="M1745.5 236.1L1808.0 267.0"/>
<path d="M1749.2 237.4L1812.0 267.0"/>
<path d="M1753.0 237.2L1815.3 271.7"/>
<path d="M1756.8 237.1L1818.7 276.3"/>
<path d="M1760.6 236.9L1822.0 281.0"/>
<path d="M1764.4 236.7L1827.2 281.0"/>
<path d="M1768.3 236.5L1832.4 281.0"/>
<path d="M1772.1 236.4L1837.6 281.0"/>
<path d="M1775.9 236.2L1842.9 281.0"/>
<path d="M1779.7 236.0L1848.1 281.0"/>
<path d="M1783.5 235.9L1853.3 281.0"/>
<path d="M1787.3 235.7L1858.5 281.0"/>
<path d="M1791.1 235.5L1863.7 281.0"/>
<path d="M1794.9 235.4L1868.9 281.0"/>
<path d="M1798.8 235.2L1874.1 281.0"/>
<path d="M1802.6 235.0L1879.4 281.0"/>
<path d="M1806.4 234.8L1884.6 281.0"/>
<path d="M1810.2 234.7L1889.8 281.0"/>
<path d="M1814.0 234.5L1895.0 281.0"/>
</g>
<g stroke="#0000FF" stroke-opacity="0.50" stroke-width="2.6" fill="none">
<path d="M1161.5 277.0L1162.5 270.0"/>
<path d="M1164.2 276.8L1165.2 269.8"/>
<path d="M1166.9 276.6L1167.9 269.6"/>
<path d="M1169.6 276.4L1170.6 269.4"/>
<path d="M1172.3 276.2L1173.3 269.2"/>
<path d="M1175.0 276.0L1176.0 269.0"/>
<path d="M1178.2 276.8L1181.0 271.8"/>
<path d="M1181.5 277.5L1186.0 274.5"/>
<path d="M1184.8 278.2L1191.0 277.2"/>
<path d="M1188.0 279.0L1196.0 280.0"/>
<path d="M1192.0 278.0L1199.3 280.7"/>
<path d="M1196.0 277.0L1202.7 281.3"/>
<path d="M1200.0 276.0L1206.0 282.0"/>
<path d="M1204.5 277.1L1210.8 283.2"/>
<path d="M1209.0 278.2L1215.5 284.5"/>
<path d="M1213.5 279.4L1220.2 285.8"/>
<path d="M1218.0 280.5L1225.0 287.0"/>
<path d="M1222.5 281.6L1229.8 288.2"/>
<path d="M1227.0 282.8L1234.5 289.5"/>
<path d="M1231.5 283.9L1239.2 290.8"/>
<path d="M1236.0 285.0L1244.0 292.0"/>
<path d="M1238.5 288.2L1246.5 294.5"/>
<path d="M1241.0 291.5L1249.0 297.0"/>
<path d="M1243.5 294.8L1251.5 299.5"/>
<path d="M1246.0 298.0L1254.0 302.0"/>
<path d="M1246.5 303.5L1258.0 306.0"/>
<path d="M1247.0 309.0L1262.0 310.0"/>
<path d="M1249.3 309.4L1264.3 310.5"/>
<path d="M1251.6 309.8L1266.6 311.0"/>
<path d="M1253.9 310.2L1268.9 311.5"/>
<path d="M1256.2 310.6L1271.2 312.0"/>
<path d="M1258.5 311.0L1273.5 312.5"/>
<path d="M1260.8 311.4L1275.8 313.0"/>
<path d="M1263.1 311.8L1278.1 313.5"/>
<path d="M1265.4 312.2L1280.4 314.0"/>
<path d="M1267.7 312.6L1282.7 314.5"/>
<path d="M1270.0 313.0L1285.0 315.0"/>
<path d="M1273.5 314.0L1287.0 314.0"/>
<path d="M1277.0 315.0L1289.0 313.0"/>
<path d="M1283.0 308.3L1293.0 303.0"/>
<path d="M1289.0 301.7L1297.0 293.0"/>
<path d="M1295.0 295.0L1301.0 283.0"/>
<path d="M1298.8 291.8L1304.8 279.6"/>
<path d="M1302.5 288.5L1308.5 276.2"/>
<path d="M1306.2 285.2L1312.2 272.8"/>
<path d="M1310.0 282.0L1316.0 269.4"/>
<path d="M1314.0 278.3L1320.0 265.6"/>
<path d="M1318.0 274.7L1324.0 261.8"/>
<path d="M1322.0 271.0L1328.0 258.0"/>
<path d="M1325.3 269.0L1330.0 256.0"/>
<path d="M1328.7 267.0L1332.0 254.0"/>
<path d="M1332.0 265.0L1334.0 252.0"/>
<path d="M1336.2 265.1L1338.2 252.1"/>
<path d="M1340.4 265.2L1342.4 252.2"/>
<path d="M1344.7 265.3L1346.6 252.3"/>
<path d="M1348.9 265.4L1350.8 252.4"/>
<path d="M1353.1 265.6L1354.9 252.6"/>
<path d="M1357.3 265.7L1359.1 252.7"/>
<path d="M1361.6 265.8L1363.3 252.8"/>
<path d="M1365.8 265.9L1367.5 252.9"/>
<path d="M1370.0 266.0L1371.7 253.0"/>
<path d="M1373.5 266.1L1375.2 253.1"/>
<path d="M1377.0 266.2L1378.6 253.2"/>
<path d="M1380.5 266.3L1382.1 253.3"/>
<path d="M1384.0 266.4L1385.6 253.4"/>
<path d="M1387.5 266.5L1389.0 253.5"/>
<path d="M1391.0 266.6L1392.5 253.6"/>
<path d="M1394.5 266.7L1395.9 253.7"/>
<path d="M1398.0 266.8L1399.4 253.8"/>
<path d="M1401.5 266.9L1402.9 253.9"/>
<path d="M1405.0 267.0L1406.3 254.0"/>
<path d="M1408.5 267.1L1409.8 254.1"/>
<path d="M1412.0 267.2L1413.3 254.2"/>
<path d="M1415.5 267.3L1416.7 254.3"/>
<path d="M1419.0 267.4L1420.2 254.4"/>
<path d="M1422.5 267.5L1423.7 254.5"/>
<path d="M1426.0 267.6L1427.1 254.6"/>
<path d="M1429.5 267.7L1430.6 254.7"/>
<path d="M1433.0 267.8L1434.1 254.8"/>
<path d="M1436.5 267.9L1437.5 254.9"/>
<path d="M1440.0 268.0L1441.0 255.0"/>
<path d="M1443.3 269.3L1444.8 257.2"/>
<path d="M1446.7 270.7L1448.7 259.3"/>
<path d="M1450.0 272.0L1452.5 261.5"/>
<path d="M1453.3 273.3L1456.3 263.7"/>
<path d="M1456.7 274.7L1460.2 265.8"/>
<path d="M1460.0 276.0L1464.0 268.0"/>
<path d="M1465.2 276.8L1469.5 269.0"/>
<path d="M1470.5 277.5L1475.0 270.0"/>
<path d="M1475.8 278.2L1480.5 271.0"/>
<path d="M1481.0 279.0L1486.0 272.0"/>
<path d="M1484.3 276.7L1489.7 270.0"/>
<path d="M1487.7 274.3L1493.3 268.0"/>
<path d="M1491.0 272.0L1497.0 266.0"/>
<path d="M1495.1 272.4L1501.1 266.3"/>
<path d="M1499.3 272.9L1505.3 266.6"/>
<path d="M1503.4 273.3L1509.4 266.9"/>
<path d="M1507.6 273.7L1513.6 267.1"/>
<path d="M1511.7 274.1L1517.7 267.4"/>
<path d="M1515.9 274.6L1521.9 267.7"/>
<path d="M1520.0 275.0L1526.0 268.0"/>
<path d="M1521.8 277.5L1528.2 273.5"/>
<path d="M1523.5 280.0L1530.5 279.0"/>
<path d="M1525.2 282.5L1532.8 284.5"/>
<path d="M1527.0 285.0L1535.0 290.0"/>
<path d="M1528.0 288.7L1538.7 292.3"/>
<path d="M1529.0 292.3L1542.3 294.7"/>
<path d="M1530.0 296.0L1546.0 297.0"/>
<path d="M1533.3 299.0L1549.0 300.7"/>
<path d="M1536.7 302.0L1552.0 304.3"/>
<path d="M1540.0 305.0L1555.0 308.0"/>
<path d="M1544.0 306.8L1558.8 309.8"/>
<path d="M1548.0 308.5L1562.5 311.5"/>
<path d="M1552.0 310.2L1566.2 313.2"/>
<path d="M1556.0 312.0L1570.0 315.0"/>
<path d="M1561.0 313.0L1575.0 315.2"/>
<path d="M1566.0 314.0L1580.0 315.5"/>
<path d="M1571.0 315.0L1585.0 315.8"/>
<path d="M1576.0 316.0L1590.0 316.0"/>
<path d="M1581.2 310.0L1593.2 307.5"/>
<path d="M1586.5 304.0L1596.5 299.0"/>
<path d="M1591.8 298.0L1599.8 290.5"/>
<path d="M1597.0 292.0L1603.0 282.0"/>
<path d="M1601.7 288.0L1607.3 277.7"/>
<path d="M1606.3 284.0L1611.7 273.3"/>
<path d="M1611.0 280.0L1616.0 269.0"/>
<path d="M1614.7 276.7L1619.3 265.3"/>
<path d="M1618.3 273.3L1622.7 261.7"/>
<path d="M1622.0 270.0L1626.0 258.0"/>
<path d="M1625.3 268.0L1628.3 255.7"/>
<path d="M1628.7 266.0L1630.7 253.3"/>
<path d="M1632.0 264.0L1633.0 251.0"/>
<path d="M1635.6 264.1L1636.6 251.1"/>
<path d="M1639.2 264.2L1640.2 251.2"/>
<path d="M1642.7 264.3L1643.7 251.3"/>
<path d="M1646.3 264.4L1647.3 251.4"/>
<path d="M1649.9 264.5L1650.9 251.5"/>
<path d="M1653.5 264.6L1654.5 251.6"/>
<path d="M1657.1 264.7L1658.1 251.7"/>
<path d="M1660.6 264.8L1661.6 251.8"/>
<path d="M1664.2 264.9L1665.2 251.9"/>
<path d="M1667.8 265.1L1668.8 252.1"/>
<path d="M1671.4 265.2L1672.4 252.2"/>
<path d="M1674.9 265.3L1675.9 252.3"/>
<path d="M1678.5 265.4L1679.5 252.4"/>
<path d="M1682.1 265.5L1683.1 252.5"/>
<path d="M1685.7 265.6L1686.7 252.6"/>
<path d="M1689.3 265.7L1690.3 252.7"/>
<path d="M1692.8 265.8L1693.8 252.8"/>
<path d="M1696.4 265.9L1697.4 252.9"/>
<path d="M1700.0 266.0L1701.0 253.0"/>
<path d="M1704.0 266.0L1705.0 253.0"/>
<path d="M1708.0 266.1L1709.0 253.1"/>
<path d="M1712.0 266.1L1713.0 253.1"/>
<path d="M1716.0 266.1L1717.0 253.1"/>
<path d="M1720.0 266.2L1721.0 253.2"/>
<path d="M1724.0 266.2L1725.0 253.2"/>
<path d="M1728.0 266.2L1729.0 253.2"/>
<path d="M1732.0 266.3L1733.0 253.3"/>
<path d="M1736.0 266.3L1737.0 253.3"/>
<path d="M1740.0 266.4L1741.0 253.4"/>
<path d="M1744.0 266.4L1745.0 253.4"/>
<path d="M1748.0 266.4L1749.0 253.4"/>
<path d="M1752.0 266.5L1753.0 253.5"/>
<path d="M1756.0 266.5L1757.0 253.5"/>
<path d="M1760.0 266.5L1761.0 253.5"/>
<path d="M1764.0 266.6L1765.0 253.6"/>
<path d="M1768.0 266.6L1769.0 253.6"/>
<path d="M1772.0 266.6L1773.0 253.6"/>
<path d="M1776.0 266.7L1777.0 253.7"/>
<path d="M1780.0 266.7L1781.0 253.7"/>
<path d="M1784.0 266.8L1785.0 253.8"/>
<path d="M1788.0 266.8L1789.0 253.8"/>
<path d="M1792.0 266.8L1793.0 253.8"/>
<path d="M1796.0 266.9L1797.0 253.9"/>
<path d="M1800.0 266.9L1801.0 253.9"/>
<path d="M1804.0 266.9L1805.0 253.9"/>
<path d="M1808.0 267.0L1809.0 254.0"/>
<path d="M1812.0 267.0L1813.0 254.0"/>
<path d="M1815.3 271.7L1816.3 259.3"/>
<path d="M1818.7 276.3L1819.7 264.7"/>
<path d="M1822.0 281.0L1823.0 270.0"/>
<path d="M1827.2 281.0L1828.2 270.0"/>
<path d="M1832.4 281.0L1833.4 270.0"/>
<path d="M1837.6 281.0L1838.6 270.0"/>
<path d="M1842.9 281.0L1843.9 270.0"/>
<path d="M1848.1 281.0L1849.1 270.0"/>
<path d="M1853.3 281.0L1854.3 270.0"/>
<path d="M1858.5 281.0L1859.5 270.0"/>
<path d="M1863.7 281.0L1864.7 270.0"/>
<path d="M1868.9 281.0L1869.9 270.0"/>
<path d="M1874.1 281.0L1875.1 270.0"/>
<path d="M1879.4 281.0L1880.4 270.0"/>
<path d="M1884.6 281.0L1887.2 271.7"/>
<path d="M1889.8 281.0L1894.1 273.3"/>
<path d="M1895.0 281.0L1901.0 275.0"/>
</g>
<path d="M1446 252L1535 321" stroke="#FF0000" stroke-opacity="0.6" stroke-width="1.9"/>
<path d="M1535 321L1564.5 344.5" stroke="#0000FF" stroke-opacity="0.55" stroke-width="2.6"/>
<g stroke="#FFA500" stroke-opacity="0.55" stroke-width="2.5" fill="none">
<path d="M1014.0 510.0L1078.0 425.0"/>
<path d="M1017.8 510.0L1081.8 425.0"/>
<path d="M1021.5 510.0L1085.5 425.0"/>
<path d="M1025.3 510.0L1089.3 425.0"/>
<path d="M1035.0 519.7L1093.0 418.7"/>
<path d="M1038.8 519.7L1096.8 418.7"/>
<path d="M1042.5 519.7L1100.5 418.7"/>
<path d="M1053.3 525.9L1104.3 416.9"/>
<path d="M1057.0 525.9L1108.0 416.9"/>
<path d="M1060.8 525.9L1111.8 416.9"/>
<path d="M1064.5 525.9L1115.5 416.9"/>
<path d="M1068.3 525.9L1119.3 416.9"/>
<path d="M1072.0 525.9L1123.0 416.9"/>
<path d="M1084.8 534.3L1126.8 408.3"/>
<path d="M1088.6 534.3L1130.6 408.3"/>
<path d="M1079.3 507.6L1134.3 412.6"/>
<path d="M1083.1 507.6L1138.1 412.6"/>
<path d="M1086.8 507.6L1141.8 412.6"/>
<path d="M1081.6 510.0L1145.6 425.0"/>
<path d="M1085.3 510.0L1149.3 425.0"/>
<path d="M1085.1 503.0L1153.1 425.0"/>
<path d="M1088.8 503.0L1156.8 425.0"/>
<path d="M1092.6 503.0L1160.6 425.0"/>
<path d="M1096.3 503.0L1164.3 425.0"/>
<path d="M1100.1 503.0L1168.1 425.0"/>
<path d="M1103.8 503.0L1171.8 425.0"/>
<path d="M1107.6 503.0L1175.6 425.0"/>
<path d="M1111.4 503.0L1179.4 425.0"/>
<path d="M1115.1 503.0L1183.1 425.0"/>
<path d="M1118.9 503.0L1186.9 425.0"/>
<path d="M1122.6 503.0L1190.6 425.0"/>
<path d="M1135.4 514.5L1194.4 424.5"/>
<path d="M1139.1 514.5L1198.1 424.5"/>
<path d="M1142.9 514.5L1201.9 424.5"/>
<path d="M1146.6 514.5L1205.6 424.5"/>
<path d="M1150.4 514.5L1209.4 424.5"/>
<path d="M1154.1 514.5L1213.1 424.5"/>
<path d="M1157.9 514.5L1216.9 424.5"/>
<path d="M1161.7 514.5L1220.7 424.5"/>
<path d="M1165.4 514.5L1224.4 424.5"/>
<path d="M1171.2 519.5L1228.2 421.5"/>
<path d="M1174.9 519.5L1231.9 421.5"/>
<path d="M1178.7 519.5L1235.7 421.5"/>
<path d="M1182.4 519.5L1239.4 421.5"/>
<path d="M1186.2 519.5L1243.2 421.5"/>
<path d="M1189.9 519.5L1246.9 421.5"/>
<path d="M1193.7 519.5L1250.7 421.5"/>
<path d="M1197.4 519.5L1254.4 421.5"/>
<path d="M1201.2 519.5L1258.2 421.5"/>
<path d="M1204.9 521.0L1261.9 417.5"/>
<path d="M1208.7 521.0L1265.7 417.5"/>
<path d="M1212.5 521.0L1269.5 417.5"/>
<path d="M1216.2 521.0L1273.2 417.5"/>
<path d="M1220.0 521.0L1277.0 417.5"/>
<path d="M1223.7 521.0L1280.7 417.5"/>
<path d="M1227.5 521.0L1284.5 417.5"/>
<path d="M1231.2 521.0L1288.2 417.5"/>
<path d="M1235.0 521.0L1292.0 417.5"/>
<path d="M1238.7 521.0L1295.7 417.5"/>
<path d="M1245.5 523.5L1299.5 417.5"/>
<path d="M1249.2 523.5L1303.2 417.5"/>
<path d="M1253.0 523.5L1307.0 417.5"/>
<path d="M1256.7 523.5L1310.7 417.5"/>
<path d="M1260.5 523.5L1314.5 417.5"/>
<path d="M1263.3 522.5L1318.3 417.5"/>
<path d="M1267.0 522.5L1322.0 417.5"/>
<path d="M1273.8 525.5L1325.8 417.5"/>
<path d="M1277.5 525.5L1329.5 417.5"/>
<path d="M1281.3 525.5L1333.3 417.5"/>
<path d="M1285.0 525.5L1337.0 417.5"/>
<path d="M1288.8 525.5L1340.8 417.5"/>
<path d="M1292.5 525.5L1344.5 417.5"/>
<path d="M1296.3 525.5L1348.3 417.5"/>
<path d="M1300.0 525.5L1352.0 417.5"/>
<path d="M1303.8 525.5L1355.8 417.5"/>
<path d="M1307.5 525.5L1359.5 417.5"/>
<path d="M1311.3 525.5L1363.3 417.5"/>
<path d="M1312.1 523.0L1367.1 419.0"/>
<path d="M1315.8 523.0L1370.8 419.0"/>
<path d="M1319.6 523.0L1374.6 419.0"/>
<path d="M1320.3 519.7L1378.3 418.7"/>
<path d="M1324.1 519.7L1382.1 418.7"/>
<path d="M1327.8 519.7L1385.8 418.7"/>
<path d="M1331.6 519.7L1389.6 418.7"/>
<path d="M1335.3 519.7L1393.3 418.7"/>
<path d="M1339.1 519.7L1397.1 418.7"/>
<path d="M1342.8 519.7L1400.8 418.7"/>
<path d="M1346.6 519.7L1404.6 418.7"/>
<path d="M1344.4 510.0L1408.4 425.0"/>
<path d="M1348.1 510.0L1412.1 425.0"/>
<path d="M1351.9 510.0L1415.9 425.0"/>
<path d="M1355.6 510.0L1419.6 425.0"/>
<path d="M1359.4 510.0L1423.4 425.0"/>
<path d="M1363.1 510.0L1427.1 425.0"/>
<path d="M1366.9 510.0L1430.9 425.0"/>
<path d="M1370.6 510.0L1434.6 425.0"/>
<path d="M1373.4 511.8L1438.4 431.8"/>
<path d="M1377.1 511.8L1442.1 431.8"/>
<path d="M1380.9 511.8L1445.9 431.8"/>
<path d="M1384.6 511.8L1449.6 431.8"/>
<path d="M1388.4 511.8L1453.4 431.8"/>
<path d="M1392.2 511.8L1457.2 431.8"/>
<path d="M1395.9 511.8L1460.9 431.8"/>
<path d="M1399.7 511.8L1464.7 431.8"/>
<path d="M1403.4 511.8L1468.4 431.8"/>
<path d="M1407.2 511.8L1472.2 431.8"/>
<path d="M1410.9 511.8L1475.9 431.8"/>
<path d="M1414.7 511.8L1479.7 431.8"/>
<path d="M1418.4 511.8L1483.4 431.8"/>
<path d="M1422.2 511.8L1487.2 431.8"/>
<path d="M1425.9 511.8L1490.9 431.8"/>
<path d="M1429.7 511.8L1494.7 431.8"/>
<path d="M1433.4 511.8L1498.4 431.8"/>
<path d="M1443.2 514.5L1502.2 424.5"/>
<path d="M1447.0 514.5L1506.0 424.5"/>
<path d="M1450.7 514.5L1509.7 424.5"/>
<path d="M1454.5 514.5L1513.5 424.5"/>
<path d="M1459.2 529.0L1517.2 419.0"/>
<path d="M1463.0 529.0L1521.0 419.0"/>
<path d="M1466.7 529.0L1524.7 419.0"/>
<path d="M1470.5 529.0L1528.5 419.0"/>
<path d="M1474.2 529.0L1532.2 419.0"/>
<path d="M1478.0 529.0L1536.0 419.0"/>
<path d="M1479.7 528.3L1539.7 417.3"/>
<path d="M1483.5 528.3L1543.5 417.3"/>
<path d="M1487.2 528.3L1547.2 417.3"/>
<path d="M1491.0 528.3L1551.0 417.3"/>
<path d="M1494.8 528.3L1554.8 417.3"/>
<path d="M1500.5 529.3L1558.5 417.3"/>
<path d="M1504.3 529.3L1562.3 417.3"/>
<path d="M1508.0 529.3L1566.0 417.3"/>
<path d="M1511.8 529.3L1569.8 417.3"/>
<path d="M1518.5 519.3L1573.5 417.3"/>
<path d="M1522.3 519.3L1577.3 417.3"/>
<path d="M1526.0 519.3L1581.0 417.3"/>
<path d="M1529.8 519.3L1584.8 417.3"/>
<path d="M1533.5 519.3L1588.5 417.3"/>
<path d="M1537.3 519.3L1592.3 417.3"/>
<path d="M1541.1 519.3L1596.1 417.3"/>
<path d="M1544.8 519.3L1599.8 417.3"/>
<path d="M1548.6 519.3L1603.6 417.3"/>
<path d="M1552.3 519.3L1607.3 417.3"/>
<path d="M1556.1 519.3L1611.1 417.3"/>
<path d="M1559.8 519.3L1614.8 417.3"/>
<path d="M1563.6 519.3L1618.6 417.3"/>
<path d="M1567.3 519.3L1622.3 417.3"/>
<path d="M1571.1 519.3L1626.1 417.3"/>
<path d="M1574.8 519.3L1629.8 417.3"/>
<path d="M1578.6 519.3L1633.6 417.3"/>
<path d="M1582.3 519.3L1637.3 417.3"/>
<path d="M1586.1 519.3L1641.1 417.3"/>
<path d="M1589.9 519.3L1644.9 417.3"/>
<path d="M1593.6 519.3L1648.6 417.3"/>
<path d="M1597.4 519.3L1652.4 417.3"/>
<path d="M1601.1 519.3L1656.1 417.3"/>
<path d="M1602.9 521.3L1659.9 417.3"/>
<path d="M1606.6 521.3L1663.6 417.3"/>
<path d="M1610.4 521.3L1667.4 417.3"/>
<path d="M1614.1 521.3L1671.1 417.3"/>
<path d="M1617.9 521.3L1674.9 417.3"/>
<path d="M1621.6 521.3L1678.6 417.3"/>
<path d="M1625.4 521.3L1682.4 417.3"/>
<path d="M1629.1 521.3L1686.1 417.3"/>
<path d="M1632.9 521.3L1689.9 417.3"/>
<path d="M1636.7 521.3L1693.7 417.3"/>
<path d="M1640.4 520.8L1697.4 417.3"/>
<path d="M1644.2 520.8L1701.2 417.3"/>
<path d="M1647.9 520.8L1704.9 417.3"/>
<path d="M1651.7 521.3L1708.7 417.3"/>
<path d="M1655.4 521.3L1712.4 417.3"/>
<path d="M1659.2 521.3L1716.2 417.3"/>
<path d="M1664.9 519.3L1719.9 417.3"/>
<path d="M1668.7 519.3L1723.7 417.3"/>
<path d="M1672.4 519.3L1727.4 417.3"/>
<path d="M1674.2 520.8L1731.2 417.3"/>
<path d="M1677.9 520.8L1734.9 417.3"/>
<path d="M1681.7 520.8L1738.7 417.3"/>
<path d="M1685.5 520.8L1742.5 417.3"/>
<path d="M1688.2 519.0L1746.2 419.0"/>
<path d="M1692.0 519.0L1750.0 419.0"/>
<path d="M1695.7 519.0L1753.7 419.0"/>
<path d="M1699.5 519.0L1757.5 419.0"/>
<path d="M1703.2 519.0L1761.2 419.0"/>
<path d="M1707.0 519.0L1765.0 419.0"/>
<path d="M1710.7 519.0L1768.7 419.0"/>
<path d="M1714.5 519.0L1772.5 419.0"/>
<path d="M1718.2 519.0L1776.2 419.0"/>
<path d="M1722.0 519.0L1780.0 419.0"/>
<path d="M1725.8 519.0L1783.8 419.0"/>
<path d="M1729.5 519.0L1787.5 419.0"/>
<path d="M1733.3 519.0L1791.3 419.0"/>
<path d="M1737.0 519.0L1795.0 419.0"/>
<path d="M1740.8 519.0L1798.8 419.0"/>
<path d="M1745.5 520.8L1802.5 417.3"/>
<path d="M1749.3 520.8L1806.3 417.3"/>
<path d="M1753.0 520.8L1810.0 417.3"/>
</g>
<g stroke="#FF0000" stroke-opacity="0.60" stroke-width="2.1" fill="none">
<path d="M1078.0 425.0L1168.0 482.0"/>
<path d="M1081.8 425.0L1171.8 482.0"/>
<path d="M1085.5 425.0L1175.5 482.0"/>
<path d="M1089.3 425.0L1179.3 482.0"/>
<path d="M1093.0 418.7L1181.0 468.7"/>
<path d="M1096.8 418.7L1184.8 468.7"/>
<path d="M1100.5 418.7L1188.5 468.7"/>
<path d="M1104.3 416.9L1219.3 456.9"/>
<path d="M1108.0 416.9L1223.0 456.9"/>
<path d="M1111.8 416.9L1226.8 456.9"/>
<path d="M1115.5 416.9L1230.5 456.9"/>
<path d="M1119.3 416.9L1234.3 456.9"/>
<path d="M1123.0 416.9L1238.0 456.9"/>
<path d="M1126.8 408.3L1204.8 436.3"/>
<path d="M1130.6 408.3L1208.6 436.3"/>
<path d="M1134.3 412.6L1186.3 441.6"/>
<path d="M1138.1 412.6L1190.1 441.6"/>
<path d="M1141.8 412.6L1193.8 441.6"/>
<path d="M1145.6 425.0L1235.6 482.0"/>
<path d="M1149.3 425.0L1239.3 482.0"/>
<path d="M1153.1 425.0L1245.7 494.4"/>
<path d="M1156.8 425.0L1249.4 494.4"/>
<path d="M1160.6 425.0L1253.2 494.4"/>
<path d="M1164.3 425.0L1256.9 494.4"/>
<path d="M1168.1 425.0L1260.7 494.4"/>
<path d="M1171.8 425.0L1264.4 494.4"/>
<path d="M1175.6 425.0L1268.2 494.4"/>
<path d="M1179.4 425.0L1272.0 494.4"/>
<path d="M1183.1 425.0L1275.7 494.4"/>
<path d="M1186.9 425.0L1279.5 494.4"/>
<path d="M1190.6 425.0L1283.2 494.4"/>
<path d="M1194.4 424.5L1284.9 478.0"/>
<path d="M1198.1 424.5L1288.6 478.0"/>
<path d="M1201.9 424.5L1292.4 478.0"/>
<path d="M1205.6 424.5L1296.1 478.0"/>
<path d="M1209.4 424.5L1299.9 478.0"/>
<path d="M1213.1 424.5L1303.6 478.0"/>
<path d="M1216.9 424.5L1307.4 478.0"/>
<path d="M1220.7 424.5L1311.2 478.0"/>
<path d="M1224.4 424.5L1314.9 478.0"/>
<path d="M1228.2 421.5L1314.2 463.5"/>
<path d="M1231.9 421.5L1317.9 463.5"/>
<path d="M1235.7 421.5L1321.7 463.5"/>
<path d="M1239.4 421.5L1325.4 463.5"/>
<path d="M1243.2 421.5L1329.2 463.5"/>
<path d="M1246.9 421.5L1332.9 463.5"/>
<path d="M1250.7 421.5L1336.7 463.5"/>
<path d="M1254.4 421.5L1340.4 463.5"/>
<path d="M1258.2 421.5L1344.2 463.5"/>
<path d="M1261.9 417.5L1344.4 451.0"/>
<path d="M1265.7 417.5L1348.2 451.0"/>
<path d="M1269.5 417.5L1352.0 451.0"/>
<path d="M1273.2 417.5L1355.7 451.0"/>
<path d="M1277.0 417.5L1359.5 451.0"/>
<path d="M1280.7 417.5L1363.2 451.0"/>
<path d="M1284.5 417.5L1367.0 451.0"/>
<path d="M1288.2 417.5L1370.7 451.0"/>
<path d="M1292.0 417.5L1374.5 451.0"/>
<path d="M1295.7 417.5L1378.2 451.0"/>
<path d="M1299.5 417.5L1381.5 448.0"/>
<path d="M1303.2 417.5L1385.2 448.0"/>
<path d="M1307.0 417.5L1389.0 448.0"/>
<path d="M1310.7 417.5L1392.7 448.0"/>
<path d="M1314.5 417.5L1396.5 448.0"/>
<path d="M1318.3 417.5L1398.3 447.5"/>
<path d="M1322.0 417.5L1402.0 447.5"/>
<path d="M1325.8 417.5L1400.8 449.5"/>
<path d="M1329.5 417.5L1404.5 449.5"/>
<path d="M1333.3 417.5L1408.3 449.5"/>
<path d="M1337.0 417.5L1412.0 449.5"/>
<path d="M1340.8 417.5L1415.8 449.5"/>
<path d="M1344.5 417.5L1419.5 449.5"/>
<path d="M1348.3 417.5L1423.3 449.5"/>
<path d="M1352.0 417.5L1427.0 449.5"/>
<path d="M1355.8 417.5L1437.8 450.5"/>
<path d="M1359.5 417.5L1441.5 450.5"/>
<path d="M1363.3 417.5L1445.3 450.5"/>
<path d="M1367.1 419.0L1452.7 464.0"/>
<path d="M1370.8 419.0L1456.4 464.0"/>
<path d="M1374.6 419.0L1460.2 464.0"/>
<path d="M1378.3 418.7L1466.3 468.7"/>
<path d="M1382.1 418.7L1470.1 468.7"/>
<path d="M1385.8 418.7L1473.8 468.7"/>
<path d="M1389.6 418.7L1477.6 468.7"/>
<path d="M1393.3 418.7L1481.3 468.7"/>
<path d="M1397.1 418.7L1485.1 468.7"/>
<path d="M1400.8 418.7L1488.8 468.7"/>
<path d="M1404.6 418.7L1492.6 468.7"/>
<path d="M1408.4 425.0L1498.4 482.0"/>
<path d="M1412.1 425.0L1502.1 482.0"/>
<path d="M1415.9 425.0L1505.9 482.0"/>
<path d="M1419.6 425.0L1509.6 482.0"/>
<path d="M1423.4 425.0L1513.4 482.0"/>
<path d="M1427.1 425.0L1517.1 482.0"/>
<path d="M1430.9 425.0L1520.9 482.0"/>
<path d="M1434.6 425.0L1524.6 482.0"/>
<path d="M1438.4 431.8L1529.2 494.4"/>
<path d="M1442.1 431.8L1532.9 494.4"/>
<path d="M1445.9 431.8L1536.7 494.4"/>
<path d="M1449.6 431.8L1540.4 494.4"/>
<path d="M1453.4 431.8L1544.2 494.4"/>
<path d="M1457.2 431.8L1548.0 494.4"/>
<path d="M1460.9 431.8L1551.7 494.4"/>
<path d="M1464.7 431.8L1555.5 494.4"/>
<path d="M1468.4 431.8L1559.2 494.4"/>
<path d="M1472.2 431.8L1563.0 494.4"/>
<path d="M1475.9 431.8L1566.7 494.4"/>
<path d="M1479.7 431.8L1570.5 494.4"/>
<path d="M1483.4 431.8L1574.2 494.4"/>
<path d="M1487.2 431.8L1578.0 494.4"/>
<path d="M1490.9 431.8L1581.7 494.4"/>
<path d="M1494.7 431.8L1585.5 494.4"/>
<path d="M1498.4 431.8L1589.2 494.4"/>
<path d="M1502.2 424.5L1590.2 478.0"/>
<path d="M1506.0 424.5L1594.0 478.0"/>
<path d="M1509.7 424.5L1597.7 478.0"/>
<path d="M1513.5 424.5L1601.5 478.0"/>
<path d="M1517.2 419.0L1602.8 464.0"/>
<path d="M1521.0 419.0L1606.6 464.0"/>
<path d="M1524.7 419.0L1610.3 464.0"/>
<path d="M1528.5 419.0L1614.1 464.0"/>
<path d="M1532.2 419.0L1617.8 464.0"/>
<path d="M1536.0 419.0L1621.6 464.0"/>
<path d="M1539.7 417.3L1621.7 450.8"/>
<path d="M1543.5 417.3L1625.5 450.8"/>
<path d="M1547.2 417.3L1629.2 450.8"/>
<path d="M1551.0 417.3L1633.0 450.8"/>
<path d="M1554.8 417.3L1636.8 450.8"/>
<path d="M1558.5 417.3L1640.5 447.8"/>
<path d="M1562.3 417.3L1644.3 447.8"/>
<path d="M1566.0 417.3L1648.0 447.8"/>
<path d="M1569.8 417.3L1651.8 447.8"/>
<path d="M1573.5 417.3L1649.5 429.3"/>
<path d="M1577.3 417.3L1653.3 429.3"/>
<path d="M1581.0 417.3L1657.0 429.3"/>
<path d="M1584.8 417.3L1660.8 429.3"/>
<path d="M1588.5 417.3L1664.5 429.3"/>
<path d="M1592.3 417.3L1668.3 429.3"/>
<path d="M1596.1 417.3L1672.1 429.3"/>
<path d="M1599.8 417.3L1675.8 429.3"/>
<path d="M1603.6 417.3L1679.6 429.3"/>
<path d="M1607.3 417.3L1683.3 429.3"/>
<path d="M1611.1 417.3L1687.1 429.3"/>
<path d="M1614.8 417.3L1690.8 429.3"/>
<path d="M1618.6 417.3L1694.6 429.3"/>
<path d="M1622.3 417.3L1698.3 429.3"/>
<path d="M1626.1 417.3L1702.1 429.3"/>
<path d="M1629.8 417.3L1705.8 429.3"/>
<path d="M1633.6 417.3L1709.6 429.3"/>
<path d="M1637.3 417.3L1713.3 429.3"/>
<path d="M1641.1 417.3L1721.1 432.3"/>
<path d="M1644.9 417.3L1724.9 432.3"/>
<path d="M1648.6 417.3L1728.6 432.3"/>
<path d="M1652.4 417.3L1728.4 429.3"/>
<path d="M1656.1 417.3L1732.1 429.3"/>
<path d="M1659.9 417.3L1739.3 440.3"/>
<path d="M1663.6 417.3L1743.0 440.3"/>
<path d="M1667.4 417.3L1746.8 440.3"/>
<path d="M1671.1 417.3L1750.5 440.3"/>
<path d="M1674.9 417.3L1754.3 440.3"/>
<path d="M1678.6 417.3L1758.0 440.3"/>
<path d="M1682.4 417.3L1761.8 440.3"/>
<path d="M1686.1 417.3L1765.5 440.3"/>
<path d="M1689.9 417.3L1769.3 440.3"/>
<path d="M1693.7 417.3L1773.1 440.3"/>
<path d="M1697.4 417.3L1779.4 450.8"/>
<path d="M1701.2 417.3L1783.2 450.8"/>
<path d="M1704.9 417.3L1786.9 450.8"/>
<path d="M1708.7 417.3L1788.1 440.3"/>
<path d="M1712.4 417.3L1791.8 440.3"/>
<path d="M1716.2 417.3L1795.6 440.3"/>
<path d="M1719.9 417.3L1799.9 432.3"/>
<path d="M1723.7 417.3L1803.7 432.3"/>
<path d="M1727.4 417.3L1807.4 432.3"/>
<path d="M1731.2 417.3L1813.2 450.8"/>
<path d="M1734.9 417.3L1816.9 450.8"/>
<path d="M1738.7 417.3L1820.7 450.8"/>
<path d="M1742.5 417.3L1824.5 450.8"/>
<path d="M1746.2 419.0L1830.2 461.0"/>
<path d="M1750.0 419.0L1834.0 461.0"/>
<path d="M1753.7 419.0L1837.7 461.0"/>
<path d="M1757.5 419.0L1841.5 461.0"/>
<path d="M1761.2 419.0L1845.2 461.0"/>
<path d="M1765.0 419.0L1849.0 461.0"/>
<path d="M1768.7 419.0L1852.7 461.0"/>
<path d="M1772.5 419.0L1857.5 461.0"/>
<path d="M1776.2 419.0L1861.2 461.0"/>
<path d="M1780.0 419.0L1865.0 461.0"/>
<path d="M1783.8 419.0L1868.8 461.0"/>
<path d="M1787.5 419.0L1872.5 461.0"/>
<path d="M1791.3 419.0L1875.3 461.0"/>
<path d="M1795.0 419.0L1879.0 461.0"/>
<path d="M1798.8 419.0L1882.8 461.0"/>
<path d="M1802.5 417.3L1883.0 450.8"/>
<path d="M1806.3 417.3L1886.8 450.8"/>
<path d="M1810.0 417.3L1890.5 450.8"/>
</g>
<g stroke="#0000FF" stroke-opacity="0.60" stroke-width="2.6" fill="none">
<path d="M1168.0 482.0L1182.0 482.0"/>
<path d="M1171.8 482.0L1185.8 482.0"/>
<path d="M1175.5 482.0L1189.5 482.0"/>
<path d="M1179.3 482.0L1193.3 482.0"/>
<path d="M1181.0 468.7L1190.0 466.7"/>
<path d="M1184.8 468.7L1193.8 466.7"/>
<path d="M1188.5 468.7L1197.5 466.7"/>
<path d="M1219.3 456.9L1224.3 449.9"/>
<path d="M1223.0 456.9L1228.0 449.9"/>
<path d="M1226.8 456.9L1231.8 449.9"/>
<path d="M1230.5 456.9L1235.5 449.9"/>
<path d="M1234.3 456.9L1239.3 449.9"/>
<path d="M1238.0 456.9L1243.0 449.9"/>
<path d="M1204.8 436.3L1207.8 433.3"/>
<path d="M1208.6 436.3L1211.6 433.3"/>
<path d="M1186.3 441.6L1186.3 449.6"/>
<path d="M1190.1 441.6L1190.1 449.6"/>
<path d="M1193.8 441.6L1193.8 449.6"/>
<path d="M1235.6 482.0L1249.6 482.0"/>
<path d="M1239.3 482.0L1253.3 482.0"/>
<path d="M1245.7 494.4L1261.7 494.4"/>
<path d="M1249.4 494.4L1265.4 494.4"/>
<path d="M1253.2 494.4L1269.2 494.4"/>
<path d="M1256.9 494.4L1272.9 494.4"/>
<path d="M1260.7 494.4L1276.7 494.4"/>
<path d="M1264.4 494.4L1280.4 494.4"/>
<path d="M1268.2 494.4L1284.2 494.4"/>
<path d="M1272.0 494.4L1288.0 494.4"/>
<path d="M1275.7 494.4L1291.7 494.4"/>
<path d="M1279.5 494.4L1295.5 494.4"/>
<path d="M1283.2 494.4L1299.2 494.4"/>
<path d="M1284.9 478.0L1292.9 474.0"/>
<path d="M1288.6 478.0L1296.6 474.0"/>
<path d="M1292.4 478.0L1300.4 474.0"/>
<path d="M1296.1 478.0L1304.1 474.0"/>
<path d="M1299.9 478.0L1307.9 474.0"/>
<path d="M1303.6 478.0L1311.6 474.0"/>
<path d="M1307.4 478.0L1315.4 474.0"/>
<path d="M1311.2 478.0L1319.2 474.0"/>
<path d="M1314.9 478.0L1322.9 474.0"/>
<path d="M1314.2 463.5L1318.2 454.5"/>
<path d="M1317.9 463.5L1321.9 454.5"/>
<path d="M1321.7 463.5L1325.7 454.5"/>
<path d="M1325.4 463.5L1329.4 454.5"/>
<path d="M1329.2 463.5L1333.2 454.5"/>
<path d="M1332.9 463.5L1336.9 454.5"/>
<path d="M1336.7 463.5L1340.7 454.5"/>
<path d="M1340.4 463.5L1344.4 454.5"/>
<path d="M1344.2 463.5L1348.2 454.5"/>
<path d="M1344.4 451.0L1348.4 442.0"/>
<path d="M1348.2 451.0L1352.2 442.0"/>
<path d="M1352.0 451.0L1356.0 442.0"/>
<path d="M1355.7 451.0L1359.7 442.0"/>
<path d="M1359.5 451.0L1363.5 442.0"/>
<path d="M1363.2 451.0L1367.2 442.0"/>
<path d="M1367.0 451.0L1371.0 442.0"/>
<path d="M1370.7 451.0L1374.7 442.0"/>
<path d="M1374.5 451.0L1378.5 442.0"/>
<path d="M1378.2 451.0L1382.2 442.0"/>
<path d="M1381.5 448.0L1383.5 439.0"/>
<path d="M1385.2 448.0L1387.2 439.0"/>
<path d="M1389.0 448.0L1391.0 439.0"/>
<path d="M1392.7 448.0L1394.7 439.0"/>
<path d="M1396.5 448.0L1398.5 439.0"/>
<path d="M1398.3 447.5L1401.3 438.5"/>
<path d="M1402.0 447.5L1405.0 438.5"/>
<path d="M1400.8 449.5L1404.8 440.5"/>
<path d="M1404.5 449.5L1408.5 440.5"/>
<path d="M1408.3 449.5L1412.3 440.5"/>
<path d="M1412.0 449.5L1416.0 440.5"/>
<path d="M1415.8 449.5L1419.8 440.5"/>
<path d="M1419.5 449.5L1423.5 440.5"/>
<path d="M1423.3 449.5L1427.3 440.5"/>
<path d="M1427.0 449.5L1431.0 440.5"/>
<path d="M1437.8 450.5L1440.8 441.5"/>
<path d="M1441.5 450.5L1444.5 441.5"/>
<path d="M1445.3 450.5L1448.3 441.5"/>
<path d="M1452.7 464.0L1456.7 458.0"/>
<path d="M1456.4 464.0L1460.4 458.0"/>
<path d="M1460.2 464.0L1464.2 458.0"/>
<path d="M1466.3 468.7L1475.3 466.7"/>
<path d="M1470.1 468.7L1479.1 466.7"/>
<path d="M1473.8 468.7L1482.8 466.7"/>
<path d="M1477.6 468.7L1486.6 466.7"/>
<path d="M1481.3 468.7L1490.3 466.7"/>
<path d="M1485.1 468.7L1494.1 466.7"/>
<path d="M1488.8 468.7L1497.8 466.7"/>
<path d="M1492.6 468.7L1501.6 466.7"/>
<path d="M1498.4 482.0L1512.4 482.0"/>
<path d="M1502.1 482.0L1516.1 482.0"/>
<path d="M1505.9 482.0L1519.9 482.0"/>
<path d="M1509.6 482.0L1523.6 482.0"/>
<path d="M1513.4 482.0L1527.4 482.0"/>
<path d="M1517.1 482.0L1531.1 482.0"/>
<path d="M1520.9 482.0L1534.9 482.0"/>
<path d="M1524.6 482.0L1538.6 482.0"/>
<path d="M1529.2 494.4L1545.2 494.4"/>
<path d="M1532.9 494.4L1548.9 494.4"/>
<path d="M1536.7 494.4L1552.7 494.4"/>
<path d="M1540.4 494.4L1556.4 494.4"/>
<path d="M1544.2 494.4L1560.2 494.4"/>
<path d="M1548.0 494.4L1564.0 494.4"/>
<path d="M1551.7 494.4L1567.7 494.4"/>
<path d="M1555.5 494.4L1571.5 494.4"/>
<path d="M1559.2 494.4L1575.2 494.4"/>
<path d="M1563.0 494.4L1579.0 494.4"/>
<path d="M1566.7 494.4L1582.7 494.4"/>
<path d="M1570.5 494.4L1586.5 494.4"/>
<path d="M1574.2 494.4L1590.2 494.4"/>
<path d="M1578.0 494.4L1594.0 494.4"/>
<path d="M1581.7 494.4L1597.7 494.4"/>
<path d="M1585.5 494.4L1601.5 494.4"/>
<path d="M1589.2 494.4L1605.2 494.4"/>
<path d="M1590.2 478.0L1598.2 474.0"/>
<path d="M1594.0 478.0L1602.0 474.0"/>
<path d="M1597.7 478.0L1605.7 474.0"/>
<path d="M1601.5 478.0L1609.5 474.0"/>
<path d="M1602.8 464.0L1606.8 458.0"/>
<path d="M1606.6 464.0L1610.6 458.0"/>
<path d="M1610.3 464.0L1614.3 458.0"/>
<path d="M1614.1 464.0L1618.1 458.0"/>
<path d="M1617.8 464.0L1621.8 458.0"/>
<path d="M1621.6 464.0L1625.6 458.0"/>
<path d="M1621.7 450.8L1625.7 441.8"/>
<path d="M1625.5 450.8L1629.5 441.8"/>
<path d="M1629.2 450.8L1633.2 441.8"/>
<path d="M1633.0 450.8L1637.0 441.8"/>
<path d="M1636.8 450.8L1640.8 441.8"/>
<path d="M1640.5 447.8L1642.5 438.8"/>
<path d="M1644.3 447.8L1646.3 438.8"/>
<path d="M1648.0 447.8L1650.0 438.8"/>
<path d="M1651.8 447.8L1653.8 438.8"/>
<path d="M1649.5 429.3L1648.5 440.3"/>
<path d="M1653.3 429.3L1652.3 440.3"/>
<path d="M1657.0 429.3L1656.0 440.3"/>
<path d="M1660.8 429.3L1659.8 440.3"/>
<path d="M1664.5 429.3L1663.5 440.3"/>
<path d="M1668.3 429.3L1667.3 440.3"/>
<path d="M1672.1 429.3L1671.1 440.3"/>
<path d="M1675.8 429.3L1674.8 440.3"/>
<path d="M1679.6 429.3L1678.6 440.3"/>
<path d="M1683.3 429.3L1682.3 440.3"/>
<path d="M1687.1 429.3L1686.1 440.3"/>
<path d="M1690.8 429.3L1689.8 440.3"/>
<path d="M1694.6 429.3L1693.6 440.3"/>
<path d="M1698.3 429.3L1697.3 440.3"/>
<path d="M1702.1 429.3L1701.1 440.3"/>
<path d="M1705.8 429.3L1704.8 440.3"/>
<path d="M1709.6 429.3L1708.6 440.3"/>
<path d="M1713.3 429.3L1712.3 440.3"/>
<path d="M1721.1 432.3L1721.1 450.3"/>
<path d="M1724.9 432.3L1724.9 450.3"/>
<path d="M1728.6 432.3L1728.6 450.3"/>
<path d="M1728.4 429.3L1727.4 440.3"/>
<path d="M1732.1 429.3L1731.1 440.3"/>
<path d="M1739.3 440.3L1739.3 448.3"/>
<path d="M1743.0 440.3L1743.0 448.3"/>
<path d="M1746.8 440.3L1746.8 448.3"/>
<path d="M1750.5 440.3L1750.5 448.3"/>
<path d="M1754.3 440.3L1754.3 448.3"/>
<path d="M1758.0 440.3L1758.0 448.3"/>
<path d="M1761.8 440.3L1761.8 448.3"/>
<path d="M1765.5 440.3L1765.5 448.3"/>
<path d="M1769.3 440.3L1769.3 448.3"/>
<path d="M1773.1 440.3L1773.1 448.3"/>
<path d="M1779.4 450.8L1783.4 441.8"/>
<path d="M1783.2 450.8L1787.2 441.8"/>
<path d="M1786.9 450.8L1790.9 441.8"/>
<path d="M1788.1 440.3L1788.1 448.3"/>
<path d="M1791.8 440.3L1791.8 448.3"/>
<path d="M1795.6 440.3L1795.6 448.3"/>
<path d="M1799.9 432.3L1799.9 450.3"/>
<path d="M1803.7 432.3L1803.7 450.3"/>
<path d="M1807.4 432.3L1807.4 450.3"/>
<path d="M1813.2 450.8L1817.2 441.8"/>
<path d="M1816.9 450.8L1820.9 441.8"/>
<path d="M1820.7 450.8L1824.7 441.8"/>
<path d="M1824.5 450.8L1828.5 441.8"/>
<path d="M1830.2 461.0L1834.2 452.0"/>
<path d="M1834.0 461.0L1838.0 452.0"/>
<path d="M1837.7 461.0L1841.7 452.0"/>
<path d="M1841.5 461.0L1845.5 452.0"/>
<path d="M1845.2 461.0L1849.2 452.0"/>
<path d="M1849.0 461.0L1853.0 452.0"/>
<path d="M1852.7 461.0L1856.7 452.0"/>
<path d="M1857.5 461.0L1861.5 452.0"/>
<path d="M1861.2 461.0L1865.2 452.0"/>
<path d="M1865.0 461.0L1869.0 452.0"/>
<path d="M1868.8 461.0L1872.8 452.0"/>
<path d="M1872.5 461.0L1876.5 452.0"/>
<path d="M1875.3 461.0L1879.3 452.0"/>
<path d="M1879.0 461.0L1883.0 452.0"/>
<path d="M1882.8 461.0L1886.8 452.0"/>
<path d="M1883.0 450.8L1887.0 441.8"/>
<path d="M1886.8 450.8L1890.8 441.8"/>
<path d="M1890.5 450.8L1894.5 441.8"/>
</g>
<text x="960.5" y="36.6" font-size="29" font-weight="bold" fill="#000">c</text>
<text x="1092.5" y="27.5" font-size="24" fill="#000" textLength="143" lengthAdjust="spacingAndGlyphs">Original data</text>
<text x="961" y="221.4" font-size="28.5" font-weight="bold" fill="#000">d</text>
<text x="1092.6" y="216.1" font-size="24" fill="#000" textLength="252.6" lengthAdjust="spacingAndGlyphs">SyntacticMotionParser</text>
<text x="960.5" y="397.5" font-size="29" font-weight="bold" fill="#000">e</text>
<text x="1092.6" y="395.8" font-size="24" fill="#000" textLength="256.4" lengthAdjust="spacingAndGlyphs">Posture model (k = 18)</text>
<rect x="1011" y="551" width="894.5" height="2.3" fill="#000"/>
<rect x="1077.0" y="553" width="2" height="8" fill="#000"/>
<text x="1078.0" y="583.5" font-size="25.5" fill="#4D4D4D" text-anchor="middle">0</text>
<rect x="1264.7" y="553" width="2" height="8" fill="#000"/>
<text x="1265.7" y="583.5" font-size="25.5" fill="#4D4D4D" text-anchor="middle">5</text>
<rect x="1452.4" y="553" width="2" height="8" fill="#000"/>
<text x="1453.4" y="583.5" font-size="25.5" fill="#4D4D4D" text-anchor="middle">10</text>
<rect x="1640.1" y="553" width="2" height="8" fill="#000"/>
<text x="1641.1" y="583.5" font-size="25.5" fill="#4D4D4D" text-anchor="middle">15</text>
<rect x="1827.8" y="553" width="2" height="8" fill="#000"/>
<text x="1810" y="583.5" font-size="25.5" fill="#4D4D4D" textLength="70" lengthAdjust="spacingAndGlyphs">20 [s]</text>
<path d="M1872,186 C1846,188 1842,236 1878,241" fill="none" stroke="#7f7f7f" stroke-width="11"/>
<path d="M1872,186 C1846,188 1842,236 1878,241" fill="none" stroke="#efefef" stroke-width="8"/>
<path d="M1872,186 C1846,188 1842,236 1878,241" fill="none" stroke="#7f7f7f" stroke-width="1.2"/>
<path d="M1884,205 L1880,226 L1888,236 L1900,232 L1896,222 L1900,206 Z" fill="#efefef" stroke="#7f7f7f" stroke-width="1.4"/>
<path d="M1888,228 L1896,224 L1903,230 L1900,238 L1890,238 Z" fill="#777"/>
<path d="M1868,190 C1872,180 1890,178 1906,181 C1915,186 1914,196 1908,204 L1918,218 L1930,226 L1928,233 L1918,232 L1904,218 L1898,210 C1890,214 1878,214 1872,206 Z" fill="#efefef" stroke="#7f7f7f" stroke-width="1.4"/>
<path d="M1919,222 L1931,226 L1931,234 L1921,233 Z" fill="#777"/>
<path d="M1897,188 L1888,208 M1906,196 L1896,214" stroke="#7f7f7f" stroke-width="1.2" fill="none"/>
<line x1="1906" y1="172" x2="1896.1" y2="159.5" stroke="#7f7f7f" stroke-width="1"/>
<line x1="1906" y1="172" x2="1897.2" y2="158.6" stroke="#7f7f7f" stroke-width="1"/>
<line x1="1906" y1="172" x2="1898.5" y2="157.9" stroke="#7f7f7f" stroke-width="1"/>
<line x1="1906" y1="172" x2="1899.8" y2="157.3" stroke="#7f7f7f" stroke-width="1"/>
<line x1="1906" y1="172" x2="1901.1" y2="156.8" stroke="#7f7f7f" stroke-width="1"/>
<line x1="1906" y1="172" x2="1902.5" y2="156.4" stroke="#7f7f7f" stroke-width="1"/>
<line x1="1906" y1="172" x2="1903.9" y2="156.1" stroke="#7f7f7f" stroke-width="1"/>
<line x1="1906" y1="172" x2="1905.3" y2="156.0" stroke="#7f7f7f" stroke-width="1"/>
<line x1="1906" y1="172" x2="1906.8" y2="156.0" stroke="#7f7f7f" stroke-width="1"/>
<line x1="1932" y1="168" x2="1942.5" y2="161.8" stroke="#7f7f7f" stroke-width="1.2"/>
<line x1="1932" y1="168" x2="1941.9" y2="160.7" stroke="#7f7f7f" stroke-width="1.2"/>
<line x1="1932" y1="168" x2="1941.2" y2="159.6" stroke="#7f7f7f" stroke-width="1.2"/>
<line x1="1932" y1="168" x2="1940.4" y2="158.7" stroke="#7f7f7f" stroke-width="1.2"/>
<line x1="1932" y1="168" x2="1939.5" y2="157.8" stroke="#7f7f7f" stroke-width="1.2"/>
<line x1="1932" y1="168" x2="1938.5" y2="157.1" stroke="#7f7f7f" stroke-width="1.2"/>
<line x1="1932" y1="168" x2="1937.4" y2="156.4" stroke="#7f7f7f" stroke-width="1.2"/>
<line x1="1932" y1="168" x2="1936.3" y2="155.9" stroke="#7f7f7f" stroke-width="1.2"/>
<circle cx="1921" cy="176.5" r="15.5" fill="#efefef" stroke="#7f7f7f" stroke-width="1.4"/>
<circle cx="1929" cy="180" r="9" fill="none" stroke="#7f7f7f" stroke-width="1"/>
<rect x="1880.5" y="126.2" width="2.3" height="122.6" fill="#000"/>
<rect x="1814.2" y="189.5" width="184.8" height="2.3" fill="#000"/>
<rect x="1873" y="138.6" width="8" height="2" fill="#000"/>
<rect x="1931" y="186" width="2" height="10.7" fill="#000"/>
<line x1="1866.4" y1="210" x2="1881.2" y2="189" stroke="#FFA500" stroke-opacity="0.6" stroke-width="7"/>
<line x1="1881.2" y1="189" x2="1921.3" y2="172" stroke="#FF0000" stroke-opacity="0.55" stroke-width="7"/>
<line x1="1921.3" y1="172" x2="1948.8" y2="186.8" stroke="#0000FF" stroke-opacity="0.5" stroke-width="7"/>
<text x="1886.0" y="131.8" font-size="17.5" fill="#231815" textLength="24.0" lengthAdjust="spacingAndGlyphs">Up</text>
<text x="1815.5" y="144.5" font-size="17.5" fill="#231815" textLength="52.5" lengthAdjust="spacingAndGlyphs">5 [cm]</text>
<text x="1896.0" y="153.0" font-size="17.5" fill="#666" textLength="45.5" lengthAdjust="spacingAndGlyphs">Head</text>
<text x="1944.5" y="178.4" font-size="17.5" fill="#666" textLength="43.0" lengthAdjust="spacingAndGlyphs">Face</text>
<text x="1818.5" y="181.2" font-size="17.5" fill="#666" textLength="47.5" lengthAdjust="spacingAndGlyphs">Trunk</text>
<text x="1814.0" y="217.1" font-size="17.5" fill="#666" textLength="29.5" lengthAdjust="spacingAndGlyphs">Hip</text>
<text x="1926.0" y="211.5" font-size="17.5" fill="#231815" textLength="10.0" lengthAdjust="spacingAndGlyphs">5</text>
<text x="1953.0" y="206.5" font-size="17.5" fill="#231815" textLength="47.0" lengthAdjust="spacingAndGlyphs">Front</text>
<text x="1901.5" y="251.6" font-size="17.5" fill="#231815" textLength="48.0" lengthAdjust="spacingAndGlyphs">Down</text>
<text x="959" y="622" font-size="26.5" font-weight="bold" fill="#000">f</text>
<text x="990.3" y="645.5" font-size="26.5" fill="#000" textLength="62.7" lengthAdjust="spacingAndGlyphs">SMP</text>
<text x="955.7" y="686.3" font-size="26.5" font-weight="bold" fill="#000" textLength="102" lengthAdjust="spacingAndGlyphs">Posture</text>
<text x="987.6" y="709.8" font-size="26.5" fill="#000" textLength="69" lengthAdjust="spacingAndGlyphs">(k=6)</text>
<text x="958" y="744.5" font-size="26.5" fill="#000" textLength="101.9" lengthAdjust="spacingAndGlyphs">Posture</text>
<text x="974" y="768.8" font-size="26.5" fill="#000" textLength="85.3" lengthAdjust="spacingAndGlyphs">(k=18)</text>
<rect x="1075.0" y="610.3" width="74.2" height="49.1" fill="#AC9A1E"/>
<rect x="1149.2" y="610.3" width="104.1" height="49.1" fill="#EA6BA3"/>
<rect x="1253.3" y="610.3" width="108.0" height="49.1" fill="#6891CB"/>
<rect x="1361.3" y="610.3" width="82.4" height="49.1" fill="#AC9A1E"/>
<rect x="1443.7" y="610.3" width="100.3" height="49.1" fill="#EA6BA3"/>
<rect x="1544.0" y="610.3" width="85.6" height="49.1" fill="#6891CB"/>
<rect x="1629.6" y="610.3" width="93.2" height="49.1" fill="#6891CB"/>
<rect x="1722.8" y="610.3" width="79.5" height="49.1" fill="#2BAA3F"/>
<rect x="1148.8" y="610.3" width="0.9" height="49.1" fill="#fff" fill-opacity="0.9"/>
<rect x="1252.8" y="610.3" width="0.9" height="49.1" fill="#fff" fill-opacity="0.9"/>
<rect x="1360.8" y="610.3" width="0.9" height="49.1" fill="#fff" fill-opacity="0.9"/>
<rect x="1443.2" y="610.3" width="0.9" height="49.1" fill="#fff" fill-opacity="0.9"/>
<rect x="1543.5" y="610.3" width="0.9" height="49.1" fill="#fff" fill-opacity="0.9"/>
<rect x="1629.1" y="610.3" width="0.9" height="49.1" fill="#fff" fill-opacity="0.9"/>
<rect x="1722.3" y="610.3" width="0.9" height="49.1" fill="#fff" fill-opacity="0.9"/>
<rect x="1074.6" y="667.5" width="25.9" height="46.8" fill="#FF5233"/>
<rect x="1100.5" y="667.5" width="7.0" height="46.8" fill="#F39A80"/>
<rect x="1107.5" y="667.5" width="14.9" height="46.8" fill="#FF0000"/>
<rect x="1122.4" y="667.5" width="22.4" height="46.8" fill="#FF5233"/>
<rect x="1144.8" y="667.5" width="52.8" height="46.8" fill="#D3D3D3"/>
<rect x="1197.6" y="667.5" width="78.0" height="46.8" fill="#F39A80"/>
<rect x="1275.6" y="667.5" width="59.6" height="46.8" fill="#FF0000"/>
<rect x="1335.2" y="667.5" width="11.3" height="46.8" fill="#F39A80"/>
<rect x="1346.5" y="667.5" width="7.0" height="46.8" fill="#FF0000"/>
<rect x="1353.5" y="667.5" width="18.8" height="46.8" fill="#F39A80"/>
<rect x="1372.3" y="667.5" width="56.0" height="46.8" fill="#FF5233"/>
<rect x="1428.3" y="667.5" width="71.3" height="46.8" fill="#D3D3D3"/>
<rect x="1499.6" y="667.5" width="36.9" height="46.8" fill="#F39A80"/>
<rect x="1536.5" y="667.5" width="190.2" height="46.8" fill="#FF0000"/>
<rect x="1726.7" y="667.5" width="75.6" height="46.8" fill="#F39A80"/>
<rect x="1100.0" y="667.5" width="0.9" height="46.8" fill="#fff" fill-opacity="0.9"/>
<rect x="1107.0" y="667.5" width="0.9" height="46.8" fill="#fff" fill-opacity="0.9"/>
<rect x="1122.0" y="667.5" width="0.9" height="46.8" fill="#fff" fill-opacity="0.9"/>
<rect x="1144.3" y="667.5" width="0.9" height="46.8" fill="#fff" fill-opacity="0.9"/>
<rect x="1197.1" y="667.5" width="0.9" height="46.8" fill="#fff" fill-opacity="0.9"/>
<rect x="1275.1" y="667.5" width="0.9" height="46.8" fill="#fff" fill-opacity="0.9"/>
<rect x="1334.8" y="667.5" width="0.9" height="46.8" fill="#fff" fill-opacity="0.9"/>
<rect x="1346.0" y="667.5" width="0.9" height="46.8" fill="#fff" fill-opacity="0.9"/>
<rect x="1353.0" y="667.5" width="0.9" height="46.8" fill="#fff" fill-opacity="0.9"/>
<rect x="1371.8" y="667.5" width="0.9" height="46.8" fill="#fff" fill-opacity="0.9"/>
<rect x="1427.8" y="667.5" width="0.9" height="46.8" fill="#fff" fill-opacity="0.9"/>
<rect x="1499.1" y="667.5" width="0.9" height="46.8" fill="#fff" fill-opacity="0.9"/>
<rect x="1536.0" y="667.5" width="0.9" height="46.8" fill="#fff" fill-opacity="0.9"/>
<rect x="1726.2" y="667.5" width="0.9" height="46.8" fill="#fff" fill-opacity="0.9"/>
<rect x="1074.6" y="723.2" width="14.8" height="46.4" fill="#ADD8E6"/>
<rect x="1089.4" y="723.2" width="11.4" height="46.4" fill="#A8C6E8"/>
<rect x="1100.8" y="723.2" width="21.6" height="46.4" fill="#705CF8"/>
<rect x="1122.4" y="723.2" width="7.2" height="46.4" fill="#4B3AFF"/>
<rect x="1129.6" y="723.2" width="11.8" height="46.4" fill="#7B68EE"/>
<rect x="1141.4" y="723.2" width="7.2" height="46.4" fill="#ADD8E6"/>
<rect x="1148.6" y="723.2" width="40.8" height="46.4" fill="#5240FF"/>
<rect x="1189.4" y="723.2" width="34.0" height="46.4" fill="#6650FA"/>
<rect x="1223.4" y="723.2" width="33.3" height="46.4" fill="#A7C2EA"/>
<rect x="1256.7" y="723.2" width="37.3" height="46.4" fill="#3320FF"/>
<rect x="1294.0" y="723.2" width="19.0" height="46.4" fill="#A0B2EE"/>
<rect x="1313.0" y="723.2" width="7.4" height="46.4" fill="#4030FF"/>
<rect x="1320.4" y="723.2" width="30.5" height="46.4" fill="#6F5CF5"/>
<rect x="1350.9" y="723.2" width="10.2" height="46.4" fill="#4A3AFF"/>
<rect x="1361.1" y="723.2" width="11.1" height="46.4" fill="#0000FF"/>
<rect x="1372.2" y="723.2" width="30.0" height="46.4" fill="#A8C6E8"/>
<rect x="1402.2" y="723.2" width="30.2" height="46.4" fill="#ADD8E6"/>
<rect x="1432.4" y="723.2" width="63.0" height="46.4" fill="#5A40FF"/>
<rect x="1495.4" y="723.2" width="15.1" height="46.4" fill="#6650FA"/>
<rect x="1510.5" y="723.2" width="21.9" height="46.4" fill="#0000FF"/>
<rect x="1532.4" y="723.2" width="19.0" height="46.4" fill="#3520FF"/>
<rect x="1551.4" y="723.2" width="15.1" height="46.4" fill="#A0B0EA"/>
<rect x="1566.5" y="723.2" width="67.0" height="46.4" fill="#9595F0"/>
<rect x="1633.5" y="723.2" width="10.9" height="46.4" fill="#7060F8"/>
<rect x="1644.4" y="723.2" width="7.8" height="46.4" fill="#9595F0"/>
<rect x="1652.2" y="723.2" width="37.3" height="46.4" fill="#A0B2EA"/>
<rect x="1689.5" y="723.2" width="10.9" height="46.4" fill="#3520FF"/>
<rect x="1700.4" y="723.2" width="4.1" height="46.4" fill="#A0B2EA"/>
<rect x="1704.5" y="723.2" width="3.8" height="46.4" fill="#3520FF"/>
<rect x="1708.3" y="723.2" width="11.2" height="46.4" fill="#7060F8"/>
<rect x="1719.5" y="723.2" width="14.9" height="46.4" fill="#3520FF"/>
<rect x="1734.4" y="723.2" width="26.0" height="46.4" fill="#A8C4EA"/>
<rect x="1760.4" y="723.2" width="22.1" height="46.4" fill="#0000FF"/>
<rect x="1782.5" y="723.2" width="7.9" height="46.4" fill="#A8C4EA"/>
<rect x="1790.4" y="723.2" width="11.9" height="46.4" fill="#3520FF"/>
<rect x="1089.0" y="723.2" width="0.9" height="46.4" fill="#fff" fill-opacity="0.9"/>
<rect x="1100.3" y="723.2" width="0.9" height="46.4" fill="#fff" fill-opacity="0.9"/>
<rect x="1122.0" y="723.2" width="0.9" height="46.4" fill="#fff" fill-opacity="0.9"/>
<rect x="1129.1" y="723.2" width="0.9" height="46.4" fill="#fff" fill-opacity="0.9"/>
<rect x="1141.0" y="723.2" width="0.9" height="46.4" fill="#fff" fill-opacity="0.9"/>
<rect x="1148.1" y="723.2" width="0.9" height="46.4" fill="#fff" fill-opacity="0.9"/>
<rect x="1189.0" y="723.2" width="0.9" height="46.4" fill="#fff" fill-opacity="0.9"/>
<rect x="1223.0" y="723.2" width="0.9" height="46.4" fill="#fff" fill-opacity="0.9"/>
<rect x="1256.2" y="723.2" width="0.9" height="46.4" fill="#fff" fill-opacity="0.9"/>
<rect x="1293.5" y="723.2" width="0.9" height="46.4" fill="#fff" fill-opacity="0.9"/>
<rect x="1312.5" y="723.2" width="0.9" height="46.4" fill="#fff" fill-opacity="0.9"/>
<rect x="1320.0" y="723.2" width="0.9" height="46.4" fill="#fff" fill-opacity="0.9"/>
<rect x="1350.5" y="723.2" width="0.9" height="46.4" fill="#fff" fill-opacity="0.9"/>
<rect x="1360.6" y="723.2" width="0.9" height="46.4" fill="#fff" fill-opacity="0.9"/>
<rect x="1371.8" y="723.2" width="0.9" height="46.4" fill="#fff" fill-opacity="0.9"/>
<rect x="1401.8" y="723.2" width="0.9" height="46.4" fill="#fff" fill-opacity="0.9"/>
<rect x="1432.0" y="723.2" width="0.9" height="46.4" fill="#fff" fill-opacity="0.9"/>
<rect x="1495.0" y="723.2" width="0.9" height="46.4" fill="#fff" fill-opacity="0.9"/>
<rect x="1510.0" y="723.2" width="0.9" height="46.4" fill="#fff" fill-opacity="0.9"/>
<rect x="1532.0" y="723.2" width="0.9" height="46.4" fill="#fff" fill-opacity="0.9"/>
<rect x="1551.0" y="723.2" width="0.9" height="46.4" fill="#fff" fill-opacity="0.9"/>
<rect x="1566.0" y="723.2" width="0.9" height="46.4" fill="#fff" fill-opacity="0.9"/>
<rect x="1633.0" y="723.2" width="0.9" height="46.4" fill="#fff" fill-opacity="0.9"/>
<rect x="1644.0" y="723.2" width="0.9" height="46.4" fill="#fff" fill-opacity="0.9"/>
<rect x="1651.8" y="723.2" width="0.9" height="46.4" fill="#fff" fill-opacity="0.9"/>
<rect x="1689.0" y="723.2" width="0.9" height="46.4" fill="#fff" fill-opacity="0.9"/>
<rect x="1700.0" y="723.2" width="0.9" height="46.4" fill="#fff" fill-opacity="0.9"/>
<rect x="1704.0" y="723.2" width="0.9" height="46.4" fill="#fff" fill-opacity="0.9"/>
<rect x="1707.8" y="723.2" width="0.9" height="46.4" fill="#fff" fill-opacity="0.9"/>
<rect x="1719.0" y="723.2" width="0.9" height="46.4" fill="#fff" fill-opacity="0.9"/>
<rect x="1734.0" y="723.2" width="0.9" height="46.4" fill="#fff" fill-opacity="0.9"/>
<rect x="1760.0" y="723.2" width="0.9" height="46.4" fill="#fff" fill-opacity="0.9"/>
<rect x="1782.0" y="723.2" width="0.9" height="46.4" fill="#fff" fill-opacity="0.9"/>
<rect x="1790.0" y="723.2" width="0.9" height="46.4" fill="#fff" fill-opacity="0.9"/>
<rect x="1068.3" y="779.3" width="837.4" height="2.3" fill="#000"/>
<rect x="1074.9" y="781" width="2" height="6" fill="#000"/>
<text x="1075.9" y="811.5" font-size="26" fill="#000" text-anchor="middle">0</text>
<rect x="1260.9" y="781" width="2" height="6" fill="#000"/>
<text x="1261.9" y="811.5" font-size="26" fill="#000" text-anchor="middle">5</text>
<rect x="1446.9" y="781" width="2" height="6" fill="#000"/>
<text x="1447.9" y="811.5" font-size="26" fill="#000" text-anchor="middle">10</text>
<rect x="1632.9" y="781" width="2" height="6" fill="#000"/>
<text x="1633.9" y="811.5" font-size="26" fill="#000" text-anchor="middle">15</text>
<rect x="1818.9" y="781" width="2" height="6" fill="#000"/>
<text x="1809" y="811.5" font-size="26" fill="#000" textLength="72.6" lengthAdjust="spacingAndGlyphs">20 [s]</text>
<text x="961.5" y="815.5" font-size="28" font-weight="bold" fill="#000">g</text>
<text x="976.8" y="848.6" font-size="26.5" fill="#000" textLength="60" lengthAdjust="spacingAndGlyphs">floor</text>
<text x="985" y="887" font-size="26.5" fill="#000" textLength="51" lengthAdjust="spacingAndGlyphs">wall</text>
<text x="972" y="934" font-size="26.5" fill="#000" textLength="65.7" lengthAdjust="spacingAndGlyphs">head</text>
<text x="972" y="972.9" font-size="26.5" fill="#000" textLength="65.7" lengthAdjust="spacingAndGlyphs">hand</text>
<rect x="1053.6" y="815.7" width="2.3" height="83.7" fill="#000"/>
<rect x="1053.6" y="909.4" width="2.3" height="83.5" fill="#000"/>
<rect x="1053.6" y="990.7" width="807.5" height="2.3" fill="#000"/>
<rect x="1047.5" y="840.0" width="6.5" height="2" fill="#000"/>
<rect x="1047.5" y="876.0" width="6.5" height="2" fill="#000"/>
<rect x="1047.5" y="926.5" width="6.5" height="2" fill="#000"/>
<rect x="1047.5" y="963.0" width="6.5" height="2" fill="#000"/>
<rect x="1090.3" y="992.5" width="2" height="6" fill="#000"/>
<text x="1091.3" y="1024" font-size="26" fill="#4D4D4D" text-anchor="middle" textLength="11" lengthAdjust="spacingAndGlyphs">1</text>
<rect x="1133.4" y="992.5" width="2" height="6" fill="#000"/>
<text x="1134.4" y="1024" font-size="26" fill="#4D4D4D" text-anchor="middle" textLength="11" lengthAdjust="spacingAndGlyphs">2</text>
<rect x="1176.5" y="992.5" width="2" height="6" fill="#000"/>
<text x="1177.5" y="1024" font-size="26" fill="#4D4D4D" text-anchor="middle" textLength="11" lengthAdjust="spacingAndGlyphs">3</text>
<rect x="1219.7" y="992.5" width="2" height="6" fill="#000"/>
<text x="1220.7" y="1024" font-size="26" fill="#4D4D4D" text-anchor="middle" textLength="11" lengthAdjust="spacingAndGlyphs">4</text>
<rect x="1262.8" y="992.5" width="2" height="6" fill="#000"/>
<text x="1263.8" y="1024" font-size="26" fill="#4D4D4D" text-anchor="middle" textLength="11" lengthAdjust="spacingAndGlyphs">5</text>
<rect x="1305.9" y="992.5" width="2" height="6" fill="#000"/>
<text x="1306.9" y="1024" font-size="26" fill="#4D4D4D" text-anchor="middle" textLength="11" lengthAdjust="spacingAndGlyphs">6</text>
<rect x="1349.0" y="992.5" width="2" height="6" fill="#000"/>
<text x="1350.0" y="1024" font-size="26" fill="#4D4D4D" text-anchor="middle" textLength="11" lengthAdjust="spacingAndGlyphs">7</text>
<rect x="1392.1" y="992.5" width="2" height="6" fill="#000"/>
<text x="1393.1" y="1024" font-size="26" fill="#4D4D4D" text-anchor="middle" textLength="11" lengthAdjust="spacingAndGlyphs">8</text>
<rect x="1435.3" y="992.5" width="2" height="6" fill="#000"/>
<text x="1436.3" y="1024" font-size="26" fill="#4D4D4D" text-anchor="middle" textLength="11" lengthAdjust="spacingAndGlyphs">9</text>
<rect x="1478.4" y="992.5" width="2" height="6" fill="#000"/>
<text x="1479.4" y="1024" font-size="26" fill="#4D4D4D" text-anchor="middle" textLength="25" lengthAdjust="spacingAndGlyphs">10</text>
<rect x="1521.5" y="992.5" width="2" height="6" fill="#000"/>
<text x="1522.5" y="1024" font-size="26" fill="#4D4D4D" text-anchor="middle" textLength="25" lengthAdjust="spacingAndGlyphs">11</text>
<rect x="1564.6" y="992.5" width="2" height="6" fill="#000"/>
<text x="1565.6" y="1024" font-size="26" fill="#4D4D4D" text-anchor="middle" textLength="25" lengthAdjust="spacingAndGlyphs">12</text>
<rect x="1607.7" y="992.5" width="2" height="6" fill="#000"/>
<text x="1608.7" y="1024" font-size="26" fill="#4D4D4D" text-anchor="middle" textLength="25" lengthAdjust="spacingAndGlyphs">13</text>
<rect x="1650.9" y="992.5" width="2" height="6" fill="#000"/>
<text x="1651.9" y="1024" font-size="26" fill="#4D4D4D" text-anchor="middle" textLength="25" lengthAdjust="spacingAndGlyphs">14</text>
<rect x="1694.0" y="992.5" width="2" height="6" fill="#000"/>
<text x="1695.0" y="1024" font-size="26" fill="#4D4D4D" text-anchor="middle" textLength="25" lengthAdjust="spacingAndGlyphs">15</text>
<rect x="1737.1" y="992.5" width="2" height="6" fill="#000"/>
<text x="1738.1" y="1024" font-size="26" fill="#4D4D4D" text-anchor="middle" textLength="25" lengthAdjust="spacingAndGlyphs">16</text>
<rect x="1780.2" y="992.5" width="2" height="6" fill="#000"/>
<text x="1781.2" y="1024" font-size="26" fill="#4D4D4D" text-anchor="middle" textLength="25" lengthAdjust="spacingAndGlyphs">17</text>
<rect x="1823.3" y="992.5" width="2" height="6" fill="#000"/>
<text x="1824.3" y="1024" font-size="26" fill="#4D4D4D" text-anchor="middle" textLength="25" lengthAdjust="spacingAndGlyphs">18</text>
<circle cx="1091.3" cy="841.0" r="13.1" fill="#FF0000"/>
<circle cx="1134.4" cy="841.0" r="18.2" fill="#FF0000"/>
<circle cx="1177.5" cy="841.0" r="9.3" fill="#FF0000"/>
<circle cx="1220.7" cy="841.0" r="5.1" fill="#FF0000"/>
<circle cx="1263.8" cy="841.0" r="12.8" fill="#FF0000"/>
<circle cx="1306.9" cy="841.0" r="12.2" fill="#FF0000"/>
<circle cx="1350.0" cy="841.0" r="5.1" fill="#FF0000"/>
<circle cx="1651.9" cy="841.0" r="8.3" fill="#FF0000"/>
<circle cx="1651.9" cy="877.0" r="5.1" fill="#0000FF"/>
<circle cx="1695.0" cy="877.0" r="9.6" fill="#0000FF"/>
<circle cx="1738.1" cy="877.0" r="9.6" fill="#0000FF"/>
<circle cx="1781.2" cy="877.0" r="9.6" fill="#0000FF"/>
<circle cx="1824.3" cy="877.0" r="9.6" fill="#0000FF"/>
<circle cx="1091.3" cy="927.5" r="13.1" fill="#FF00FF"/>
<circle cx="1134.4" cy="927.5" r="11.2" fill="#FF00FF"/>
<circle cx="1177.5" cy="927.5" r="5.1" fill="#FF00FF"/>
<circle cx="1220.7" cy="927.5" r="5.1" fill="#FF00FF"/>
<circle cx="1134.4" cy="964.0" r="16.0" fill="#FFA500"/>
<circle cx="1177.5" cy="964.0" r="8.4" fill="#FFA500"/>
<circle cx="1263.8" cy="964.0" r="12.8" fill="#FFA500"/>
<circle cx="1306.9" cy="964.0" r="12.2" fill="#FFA500"/>
<circle cx="1350.0" cy="964.0" r="5.1" fill="#FFA500"/>
<circle cx="1651.9" cy="964.0" r="8.3" fill="#FFA500"/>
<rect x="1859.6" y="840.5" width="2.6" height="50" fill="#231815"/>
<rect x="1859.6" y="924" width="2.6" height="50" fill="#231815"/>
<text x="1876" y="880" font-size="24" fill="#000" text-anchor="middle">*</text>
<text x="1876" y="960" font-size="24" fill="#000" text-anchor="middle">*</text>
<text x="1381" y="1053.4" font-size="26.5" fill="#000" textLength="161.6" lengthAdjust="spacingAndGlyphs">Motion motif</text>
<circle cx="1645.0" cy="1047" r="5.1" fill="#000"/>
<text x="1659.0" y="1058.6" font-size="26" fill="#000">1</text>
<circle cx="1715.4" cy="1047" r="11.0" fill="#000"/>
<text x="1735.0" y="1058.6" font-size="26" fill="#000">5</text>
<circle cx="1797.4" cy="1047" r="14.9" fill="#000"/>
<text x="1821.0" y="1058.6" font-size="26" fill="#000">10</text>
<circle cx="1892.0" cy="1047" r="17.1" fill="#000"/>
<text x="1917.6" y="1058.6" font-size="26" fill="#000">15</text>
</svg></body></html>
